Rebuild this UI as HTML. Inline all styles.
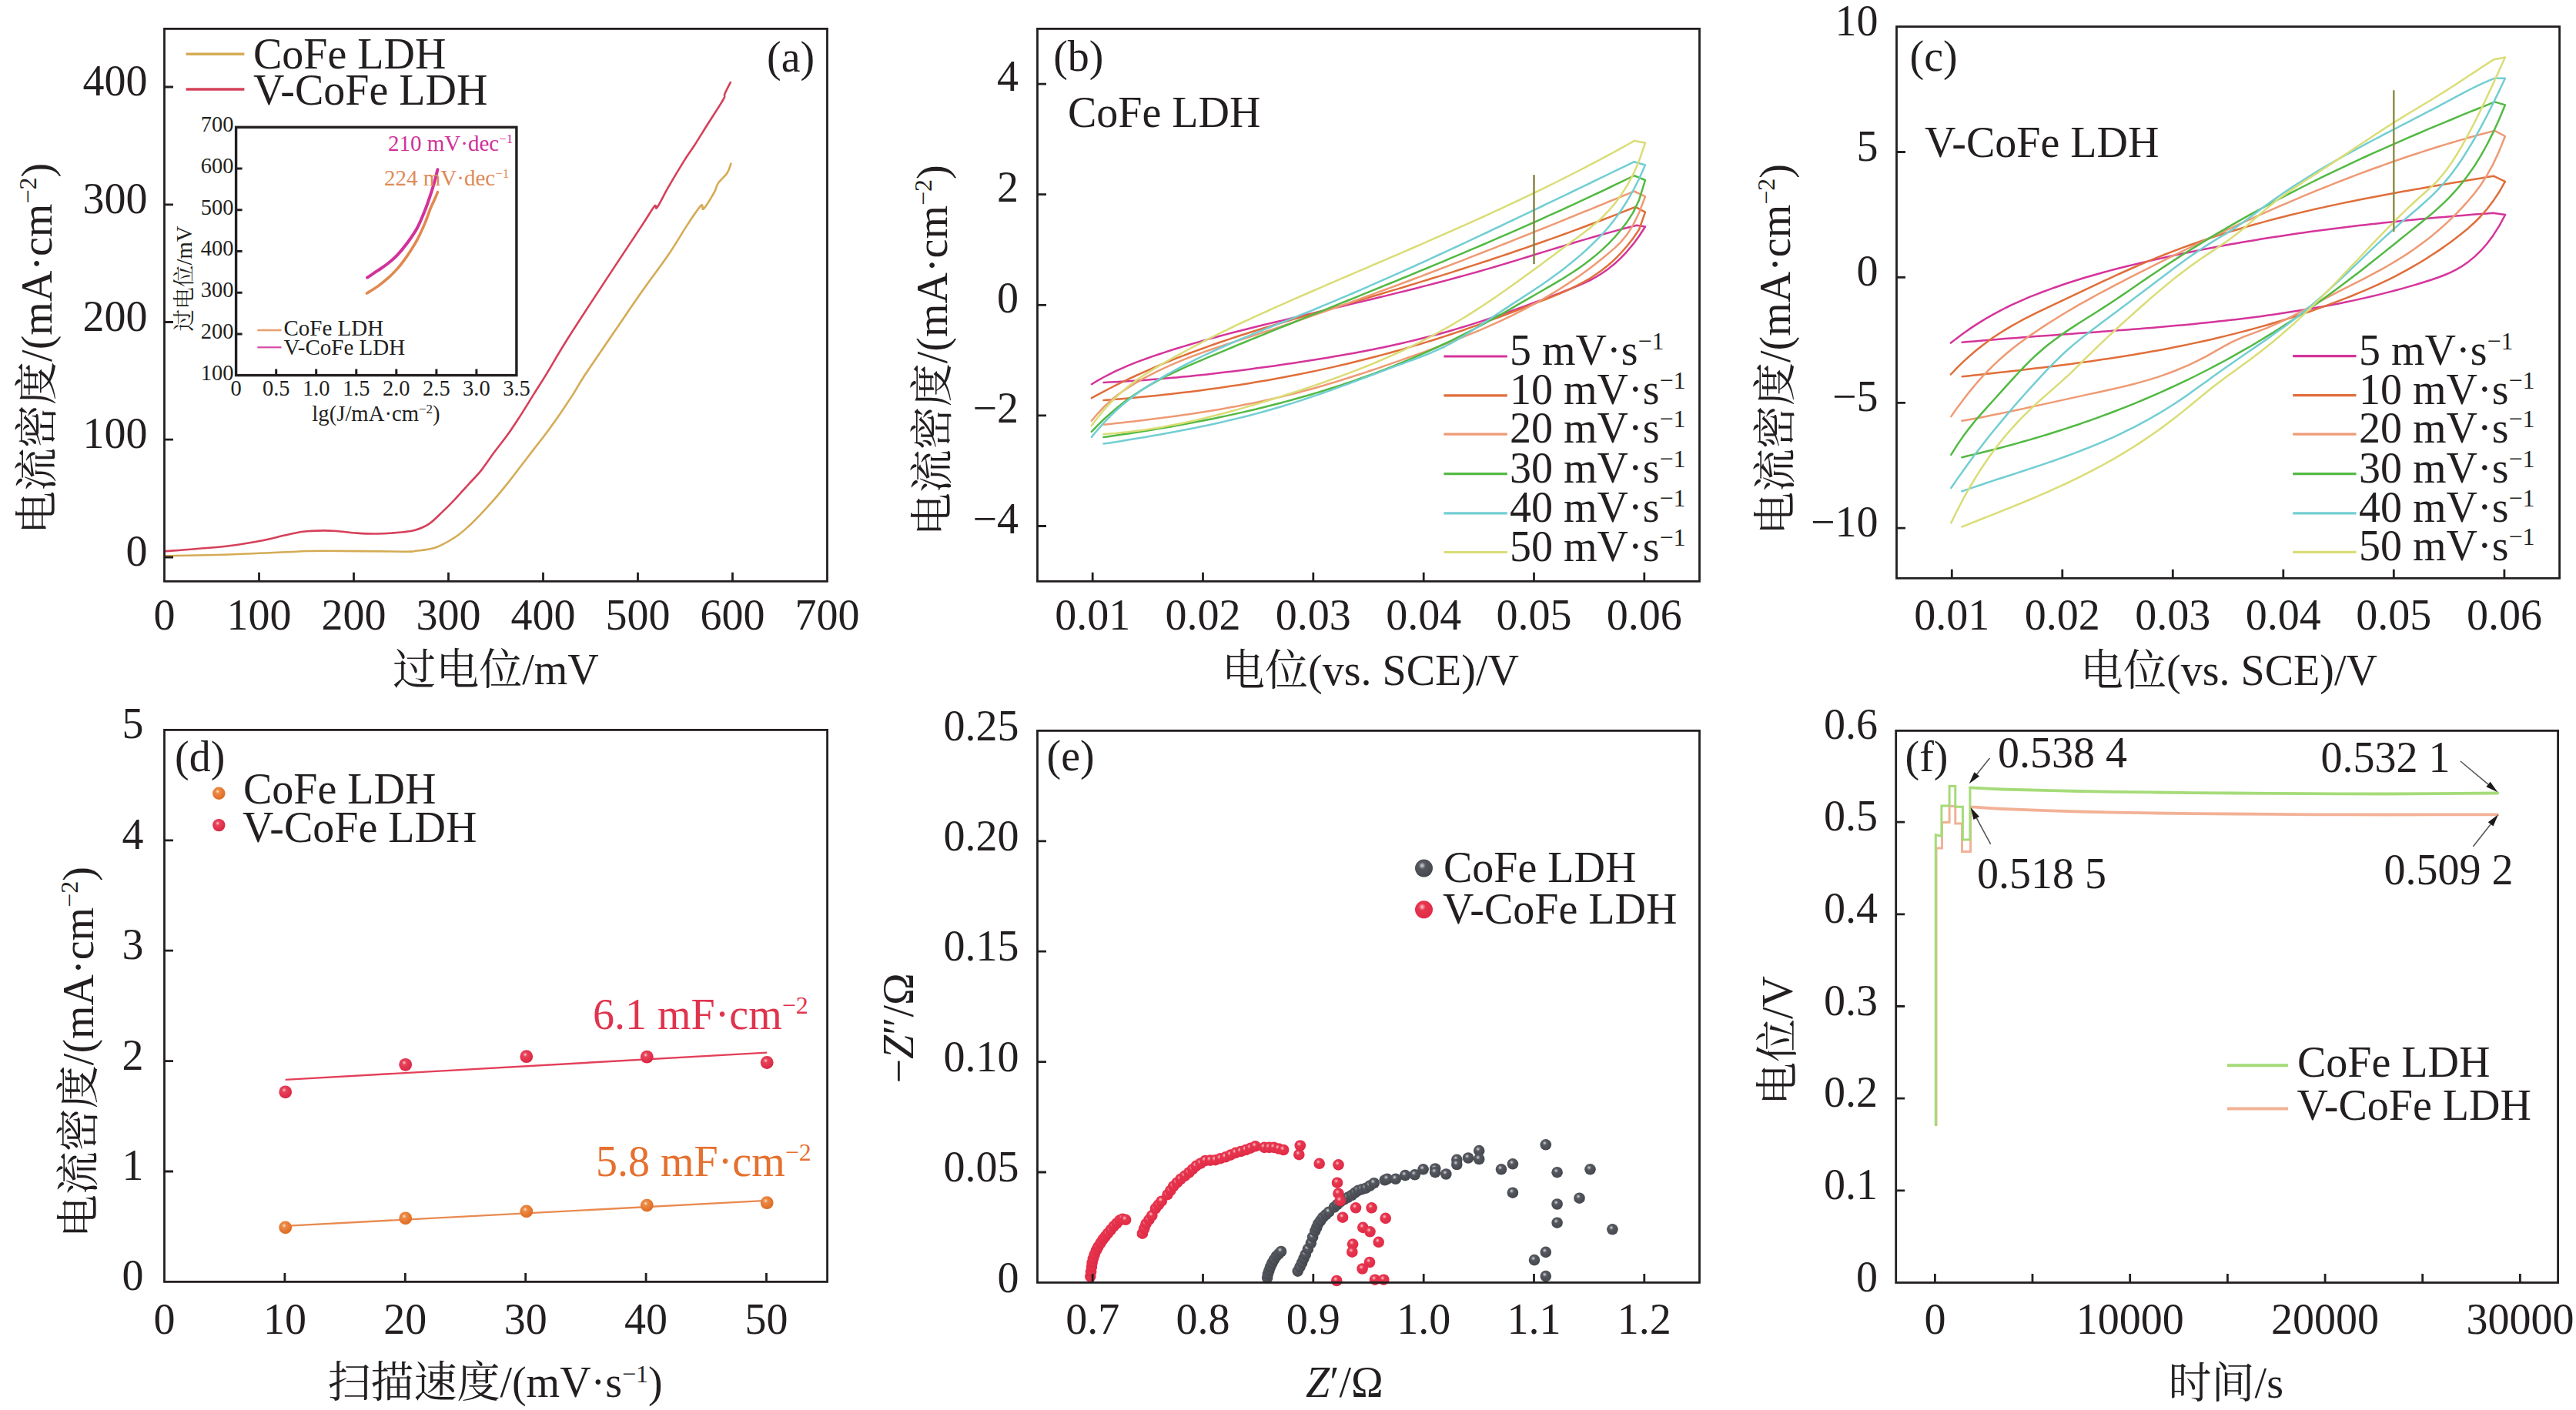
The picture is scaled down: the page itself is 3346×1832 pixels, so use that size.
<!DOCTYPE html>
<html><head><meta charset="utf-8"><title>figure</title>
<style>
html,body{margin:0;padding:0;background:#fff;}
body{width:3346px;height:1832px;overflow:hidden;}
svg{display:block;}
text{font-family:"Liberation Serif","Noto Serif CJK SC",serif;}
.cjk{font-family:"Liberation Serif","Noto Serif CJK SC",serif;}
</style></head><body>
<svg width="3346" height="1832" viewBox="0 0 3346 1832">
<rect width="3346" height="1832" fill="#fff"/>
<defs>
<radialGradient id="gOr" cx="0.4" cy="0.35" r="0.65"><stop offset="0" stop-color="#fde6d0"/><stop offset="0.25" stop-color="#ec8a45"/><stop offset="1" stop-color="#de6a22"/></radialGradient>
<radialGradient id="gRd" cx="0.4" cy="0.35" r="0.65"><stop offset="0" stop-color="#fbd0d8"/><stop offset="0.25" stop-color="#e8435b"/><stop offset="1" stop-color="#d92743"/></radialGradient>
<radialGradient id="gRe" cx="0.4" cy="0.35" r="0.65"><stop offset="0" stop-color="#f7c8d0"/><stop offset="0.3" stop-color="#e8364f"/><stop offset="1" stop-color="#e02a45"/></radialGradient>
<radialGradient id="gDk" cx="0.4" cy="0.35" r="0.65"><stop offset="0" stop-color="#d8d8dc"/><stop offset="0.3" stop-color="#55585f"/><stop offset="1" stop-color="#44474e"/></radialGradient>
</defs>
<text x="213.5" y="817.5" font-size="56" text-anchor="middle" fill="#231F20" >0</text>
<text x="336.5" y="817.5" font-size="56" text-anchor="middle" fill="#231F20" >100</text>
<text x="459.5" y="817.5" font-size="56" text-anchor="middle" fill="#231F20" >200</text>
<text x="582.5" y="817.5" font-size="56" text-anchor="middle" fill="#231F20" >300</text>
<text x="705.5" y="817.5" font-size="56" text-anchor="middle" fill="#231F20" >400</text>
<text x="828.5" y="817.5" font-size="56" text-anchor="middle" fill="#231F20" >500</text>
<text x="951.5" y="817.5" font-size="56" text-anchor="middle" fill="#231F20" >600</text>
<text x="1074.5" y="817.5" font-size="56" text-anchor="middle" fill="#231F20" >700</text>
<text x="191.5" y="735" font-size="56" text-anchor="end" fill="#231F20" >0</text>
<text x="191.5" y="582.2" font-size="56" text-anchor="end" fill="#231F20" >100</text>
<text x="191.5" y="429.5" font-size="56" text-anchor="end" fill="#231F20" >200</text>
<text x="191.5" y="276.8" font-size="56" text-anchor="end" fill="#231F20" >300</text>
<text x="191.5" y="124" font-size="56" text-anchor="end" fill="#231F20" >400</text>
<text x="644" y="888.9" font-size="56" text-anchor="middle" fill="#231F20" >过电位/mV</text>
<text x="66.8" y="452.9" font-size="56" text-anchor="middle" fill="#231F20" transform="rotate(-90 66.8 452.9)">电流密度/(mA·cm<tspan font-size="32" dy="-20">−2</tspan><tspan font-size="56" dy="20">)</tspan></text>
<line x1="241.6" y1="70.3" x2="317.4" y2="70.3" stroke="#D5AB55" stroke-width="3.4"/>
<line x1="241.6" y1="116" x2="317.4" y2="116" stroke="#D6405A" stroke-width="3.4"/>
<text x="329" y="88.8" font-size="56" text-anchor="start" fill="#231F20" >CoFe LDH</text>
<text x="329" y="136.4" font-size="56" text-anchor="start" fill="#231F20" >V-CoFe LDH</text>
<text x="996" y="92.6" font-size="56" text-anchor="start" fill="#231F20" >(a)</text>
<path d="M214.4 722.3C228.2 722 269 721.4 297.4 720.5C325.8 719.6 364.3 717.5 384.7 716.7C405.1 715.9 396.3 715.7 419.6 715.7C442.9 715.7 504.4 716.7 524.5 716.7C544.6 716.7 533.2 716.6 540 715.8C546.8 714.9 557 714.6 565.5 711.6C574 708.6 584 702.5 591.1 698C598.2 693.5 602.4 689.4 608.1 684.3C613.8 679.2 619.4 673.2 625.1 667.3C630.8 661.3 636.5 655.1 642.2 648.6C647.9 642.1 653.5 635.2 659.2 628.1C664.9 621 670.5 613.4 676.2 606C681.9 598.6 687.5 591.3 693.2 583.9C698.9 576.5 704.6 569.4 710.3 561.7C716 554 721.6 546.1 727.3 537.9C733 529.7 738.8 520.9 744.3 512.4C749.8 503.9 750.7 500.9 760 486.8C769.3 472.7 787.5 446.3 800 428C812.5 409.7 823.5 393.3 835 377C846.5 360.7 859.1 344.4 868.9 330C878.7 315.6 886.6 301.4 893.6 290.9C900.6 280.4 907.2 270.3 910.6 267C914 263.7 911.1 274.1 914 271.3C916.9 268.5 924.6 255.5 927.7 250C930.8 244.5 930 242.3 932.8 238.1C935.6 233.8 941.9 228.8 944.7 224.5C947.5 220.2 948.6 214.6 949.4 212.6" fill="none" stroke="#D5AB55" stroke-width="2.6" stroke-linejoin="round" stroke-linecap="round" />
<path d="M214.4 716.2C220.9 715.7 239.9 714.4 253.7 713.2C267.5 712 282.8 711 297.4 709.2C311.9 707.4 329.4 704.4 341 702.2C352.6 700 358.5 698 367.2 696.1C375.9 694.2 384.7 691.9 393.4 690.8C402.1 689.7 412.3 689.5 419.6 689.4C426.9 689.3 429.8 689.5 437.1 690C444.4 690.5 454.6 692 463.3 692.6C472 693.2 479.3 693.7 489.5 693.5C499.7 693.3 516.1 692 524.5 691.2C532.9 690.4 534.6 690.3 540 688.6C545.4 686.9 551.3 684.7 557 680.9C562.7 677.1 568.4 671 574.1 665.6C579.8 660.2 585.4 654.6 591.1 648.6C596.8 642.6 602.4 636 608.1 629.8C613.8 623.5 619.4 618.2 625.1 611.1C630.8 604 636.5 595 642.2 587.3C647.9 579.6 653.5 573 659.2 565.1C664.9 557.2 670.5 548.4 676.2 539.6C681.9 530.8 687.5 521.5 693.2 512.4C698.9 503.3 702.7 497.6 710.3 485.1C717.9 472.6 724.3 460.7 739 437.5C753.7 414.3 782.8 370.2 798.6 346.1C814.4 322 825.4 305.6 834 292.6C842.6 279.6 846.9 271.7 850.2 267.9C853.5 264.1 850.6 273.7 853.6 269.6C856.6 265.5 862.3 253.3 868.1 243.2C873.9 233.1 882.8 218.2 888.5 209.1C894.2 200 897 196.6 902.1 188.7C907.2 180.8 912.9 171.4 919.1 161.5C925.4 151.6 935.9 135.6 939.6 129.1C943.3 122.6 939.8 126 941.3 122.3C942.8 118.6 947.6 109.5 948.9 107" fill="none" stroke="#D6405A" stroke-width="2.6" stroke-linejoin="round" stroke-linecap="round" />
<text x="306.6" y="513.8" font-size="28.5" text-anchor="middle" fill="#231F20" >0</text>
<text x="358.7" y="513.8" font-size="28.5" text-anchor="middle" fill="#231F20" >0.5</text>
<text x="410.7" y="513.8" font-size="28.5" text-anchor="middle" fill="#231F20" >1.0</text>
<text x="462.8" y="513.8" font-size="28.5" text-anchor="middle" fill="#231F20" >1.5</text>
<text x="514.8" y="513.8" font-size="28.5" text-anchor="middle" fill="#231F20" >2.0</text>
<text x="566.9" y="513.8" font-size="28.5" text-anchor="middle" fill="#231F20" >2.5</text>
<text x="618.9" y="513.8" font-size="28.5" text-anchor="middle" fill="#231F20" >3.0</text>
<text x="671" y="513.8" font-size="28.5" text-anchor="middle" fill="#231F20" >3.5</text>
<text x="303.5" y="493.6" font-size="28.5" text-anchor="end" fill="#231F20" >100</text>
<text x="303.5" y="439.9" font-size="28.5" text-anchor="end" fill="#231F20" >200</text>
<text x="303.5" y="386.2" font-size="28.5" text-anchor="end" fill="#231F20" >300</text>
<text x="303.5" y="332.4" font-size="28.5" text-anchor="end" fill="#231F20" >400</text>
<text x="303.5" y="278.7" font-size="28.5" text-anchor="end" fill="#231F20" >500</text>
<text x="303.5" y="225" font-size="28.5" text-anchor="end" fill="#231F20" >600</text>
<text x="303.5" y="171.3" font-size="28.5" text-anchor="end" fill="#231F20" >700</text>
<text x="488.5" y="546.6" font-size="28.7" text-anchor="middle" fill="#231F20">lg(J/mA·cm<tspan font-size="17" dy="-10">−2</tspan><tspan dy="10">)</tspan></text>
<text x="249" y="362" font-size="28.7" text-anchor="middle" fill="#231F20" transform="rotate(-90 249 362)">过电位/mV</text>
<path d="M476.5 381.1C478.8 379.6 486 375.3 490.5 372.1C495 368.9 499 365.7 503.3 361.9C507.6 358.1 511.9 354.1 516.1 349.2C520.4 344.3 524.5 338.8 528.8 332.6C533 326.4 537.8 319.1 541.6 312.1C545.4 305.1 548.8 297.4 551.8 290.4C554.8 283.4 557.1 275.7 559.5 270C561.9 264.3 564.4 259.4 565.9 256C567.4 252.6 568 250.7 568.4 249.6" fill="none" stroke="#E2884F" stroke-width="3.6" stroke-linejoin="round" stroke-linecap="round" />
<path d="M477.1 360.6C479.3 359.1 486.1 354.7 490.5 351.7C494.9 348.7 499 346.2 503.3 342.8C507.6 339.4 511.9 335.8 516.1 331.3C520.4 326.8 524.5 321.8 528.8 316C533 310.2 537.8 303.8 541.6 296.8C545.4 289.8 548.8 281.2 551.8 273.8C554.8 266.4 557.4 258.5 559.5 252.1C561.6 245.7 563.1 240.8 564.6 235.5C566.1 230.2 567.8 222.8 568.4 220.2" fill="none" stroke="#D2329B" stroke-width="4.0" stroke-linejoin="round" stroke-linecap="round" />
<line x1="334.3" y1="429" x2="365.5" y2="429" stroke="#E9A06E" stroke-width="2.6"/>
<line x1="334.3" y1="451.3" x2="365.5" y2="451.3" stroke="#D849A8" stroke-width="2.2"/>
<text x="368.5" y="436.4" font-size="29" text-anchor="start" fill="#231F20" >CoFe LDH</text>
<text x="368.5" y="461" font-size="29" text-anchor="start" fill="#231F20" >V-CoFe LDH</text>
<text x="504" y="196" font-size="29" fill="#D0309A">210 mV·dec<tspan font-size="17" dy="-10">−1</tspan></text>
<text x="499" y="240.7" font-size="29" fill="#E08A55">224 mV·dec<tspan font-size="17" dy="-10">−1</tspan></text>
<text x="1419.2" y="817.5" font-size="56" text-anchor="middle" fill="#231F20" >0.01</text>
<text x="1562.5" y="817.5" font-size="56" text-anchor="middle" fill="#231F20" >0.02</text>
<text x="1705.8" y="817.5" font-size="56" text-anchor="middle" fill="#231F20" >0.03</text>
<text x="1849.2" y="817.5" font-size="56" text-anchor="middle" fill="#231F20" >0.04</text>
<text x="1992.5" y="817.5" font-size="56" text-anchor="middle" fill="#231F20" >0.05</text>
<text x="2135.8" y="817.5" font-size="56" text-anchor="middle" fill="#231F20" >0.06</text>
<text x="1323" y="692.8" font-size="56" text-anchor="end" fill="#231F20" >−4</text>
<text x="1323" y="549.2" font-size="56" text-anchor="end" fill="#231F20" >−2</text>
<text x="1323" y="405.6" font-size="56" text-anchor="end" fill="#231F20" >0</text>
<text x="1323" y="262" font-size="56" text-anchor="end" fill="#231F20" >2</text>
<text x="1323" y="118.4" font-size="56" text-anchor="end" fill="#231F20" >4</text>
<text x="1780" y="889.5" font-size="56" text-anchor="middle" fill="#231F20" >电位(vs. SCE)/V</text>
<text x="1230.4" y="455.3" font-size="56" text-anchor="middle" fill="#231F20" transform="rotate(-90 1230.4 455.3)">电流密度/(mA·cm<tspan font-size="32" dy="-20">−2</tspan><tspan font-size="56" dy="20">)</tspan></text>
<text x="1368.2" y="92.2" font-size="56" text-anchor="start" fill="#231F20" >(b)</text>
<text x="1387" y="164.8" font-size="56" text-anchor="start" fill="#231F20" >CoFe LDH</text>
<line x1="1875.4" y1="463" x2="1957.8" y2="463" stroke="#D5349B" stroke-width="3.2"/>
<text x="1961" y="474" font-size="56" text-anchor="start" fill="#231F20" >5 mV·s<tspan font-size="32" dy="-20">−1</tspan></text>
<line x1="1875.4" y1="513.9" x2="1957.8" y2="513.9" stroke="#E06E3A" stroke-width="3.2"/>
<text x="1961" y="524.9" font-size="56" text-anchor="start" fill="#231F20" >10 mV·s<tspan font-size="32" dy="-20">−1</tspan></text>
<line x1="1875.4" y1="564.1" x2="1957.8" y2="564.1" stroke="#EE9A74" stroke-width="3.2"/>
<text x="1961" y="575.1" font-size="56" text-anchor="start" fill="#231F20" >20 mV·s<tspan font-size="32" dy="-20">−1</tspan></text>
<line x1="1875.4" y1="615.7" x2="1957.8" y2="615.7" stroke="#52B943" stroke-width="3.2"/>
<text x="1961" y="626.7" font-size="56" text-anchor="start" fill="#231F20" >30 mV·s<tspan font-size="32" dy="-20">−1</tspan></text>
<line x1="1875.4" y1="666.9" x2="1957.8" y2="666.9" stroke="#72CED3" stroke-width="3.2"/>
<text x="1961" y="677.9" font-size="56" text-anchor="start" fill="#231F20" >40 mV·s<tspan font-size="32" dy="-20">−1</tspan></text>
<line x1="1875.4" y1="717.5" x2="1957.8" y2="717.5" stroke="#DADD76" stroke-width="3.2"/>
<text x="1961" y="728.5" font-size="56" text-anchor="start" fill="#231F20" >50 mV·s<tspan font-size="32" dy="-20">−1</tspan></text>
<text x="2535.3" y="817.5" font-size="56" text-anchor="middle" fill="#231F20" >0.01</text>
<text x="2678.8" y="817.5" font-size="56" text-anchor="middle" fill="#231F20" >0.02</text>
<text x="2822.3" y="817.5" font-size="56" text-anchor="middle" fill="#231F20" >0.03</text>
<text x="2965.8" y="817.5" font-size="56" text-anchor="middle" fill="#231F20" >0.04</text>
<text x="3109.3" y="817.5" font-size="56" text-anchor="middle" fill="#231F20" >0.05</text>
<text x="3252.9" y="817.5" font-size="56" text-anchor="middle" fill="#231F20" >0.06</text>
<text x="2439.5" y="697.2" font-size="56" text-anchor="end" fill="#231F20" >−10</text>
<text x="2439.5" y="534.3" font-size="56" text-anchor="end" fill="#231F20" >−5</text>
<text x="2439.5" y="371.4" font-size="56" text-anchor="end" fill="#231F20" >0</text>
<text x="2439.5" y="208.5" font-size="56" text-anchor="end" fill="#231F20" >5</text>
<text x="2439.5" y="45.6" font-size="56" text-anchor="end" fill="#231F20" >10</text>
<text x="2895" y="889.5" font-size="56" text-anchor="middle" fill="#231F20" >电位(vs. SCE)/V</text>
<text x="2325.1" y="454" font-size="56" text-anchor="middle" fill="#231F20" transform="rotate(-90 2325.1 454)">电流密度/(mA·cm<tspan font-size="32" dy="-20">−2</tspan><tspan font-size="56" dy="20">)</tspan></text>
<text x="2480.5" y="92" font-size="56" text-anchor="start" fill="#231F20" >(c)</text>
<text x="2500" y="204.2" font-size="56" text-anchor="start" fill="#231F20" >V-CoFe LDH</text>
<line x1="2978.2" y1="462.7" x2="3060.5" y2="462.7" stroke="#D5349B" stroke-width="3.2"/>
<text x="3064" y="473.7" font-size="56" text-anchor="start" fill="#231F20" >5 mV·s<tspan font-size="32" dy="-20">−1</tspan></text>
<line x1="2978.2" y1="513.7" x2="3060.5" y2="513.7" stroke="#E06E3A" stroke-width="3.2"/>
<text x="3064" y="524.7" font-size="56" text-anchor="start" fill="#231F20" >10 mV·s<tspan font-size="32" dy="-20">−1</tspan></text>
<line x1="2978.2" y1="564.1" x2="3060.5" y2="564.1" stroke="#EE9A74" stroke-width="3.2"/>
<text x="3064" y="575.1" font-size="56" text-anchor="start" fill="#231F20" >20 mV·s<tspan font-size="32" dy="-20">−1</tspan></text>
<line x1="2978.2" y1="615.6" x2="3060.5" y2="615.6" stroke="#52B943" stroke-width="3.2"/>
<text x="3064" y="626.6" font-size="56" text-anchor="start" fill="#231F20" >30 mV·s<tspan font-size="32" dy="-20">−1</tspan></text>
<line x1="2978.2" y1="666.9" x2="3060.5" y2="666.9" stroke="#72CED3" stroke-width="3.2"/>
<text x="3064" y="677.9" font-size="56" text-anchor="start" fill="#231F20" >40 mV·s<tspan font-size="32" dy="-20">−1</tspan></text>
<line x1="2978.2" y1="717.3" x2="3060.5" y2="717.3" stroke="#DADD76" stroke-width="3.2"/>
<text x="3064" y="728.3" font-size="56" text-anchor="start" fill="#231F20" >50 mV·s<tspan font-size="32" dy="-20">−1</tspan></text>
<path d="M1417.9 499.2 L1425.9 494.4 L1433.8 490 L1441.8 485.8 L1449.7 481.9 L1457.7 478.3 L1465.6 474.8 L1473.6 471.6 L1481.5 468.6 L1489.5 465.7 L1497.5 462.9 L1505.4 460.2 L1513.4 457.6 L1521.3 455 L1529.3 452.5 L1537.2 450.1 L1545.2 447.7 L1553.2 445.4 L1561.1 443.1 L1569.1 440.9 L1577 438.7 L1585 436.5 L1592.9 434.4 L1600.9 432.3 L1608.8 430.3 L1616.8 428.3 L1624.8 426.3 L1632.7 424.3 L1640.7 422.3 L1648.6 420.4 L1656.6 418.5 L1664.5 416.6 L1672.5 414.7 L1680.5 412.8 L1688.4 410.9 L1696.4 409 L1704.3 407.1 L1712.3 405.2 L1720.2 403.4 L1728.2 401.5 L1736.1 399.6 L1744.1 397.7 L1752.1 395.8 L1760 393.9 L1768 392 L1775.9 390.1 L1783.9 388.2 L1791.8 386.3 L1799.8 384.4 L1807.8 382.4 L1815.7 380.4 L1823.7 378.5 L1831.6 376.5 L1839.6 374.5 L1847.5 372.4 L1855.5 370.4 L1863.4 368.3 L1871.4 366.2 L1879.4 364.1 L1887.3 362 L1895.3 359.8 L1903.2 357.6 L1911.2 355.4 L1919.1 353.2 L1927.1 350.9 L1935.1 348.6 L1943 346.2 L1951 343.9 L1958.9 341.5 L1966.9 339.1 L1974.8 336.6 L1982.8 334.2 L1990.7 331.8 L1998.7 329.3 L2006.7 326.9 L2014.6 324.4 L2022.6 322 L2030.5 319.6 L2038.5 317.2 L2046.4 314.8 L2054.4 312.4 L2062.4 310.1 L2070.3 307.8 L2078.3 305.5 L2086.2 303.3 L2094.2 301.1 L2102.1 298.9 L2110.1 296.8 L2118 294.8 L2126 292.8 L2137 294.5 L2129.1 306.7 L2121.2 317.4 L2113.3 326.8 L2105.4 335.2 L2097.5 342.5 L2089.6 348.9 L2081.7 354.5 L2073.8 359.5 L2065.9 363.8 L2058 367.7 L2050.1 371.2 L2042.1 374.4 L2034.2 377.5 L2026.3 380.6 L2018.4 383.6 L2010.5 386.6 L2002.6 389.6 L1994.7 392.5 L1986.8 395.5 L1978.9 398.4 L1971 401.2 L1963.1 404.1 L1955.2 406.9 L1947.3 409.6 L1939.4 412.3 L1931.5 415 L1923.6 417.6 L1915.7 420.1 L1907.8 422.6 L1899.9 425 L1892 427.4 L1884.1 429.7 L1876.2 432 L1868.2 434.2 L1860.3 436.3 L1852.4 438.3 L1844.5 440.3 L1836.6 442.3 L1828.7 444.1 L1820.8 446 L1812.9 447.8 L1805 449.5 L1797.1 451.2 L1789.2 452.8 L1781.3 454.4 L1773.4 455.9 L1765.5 457.4 L1757.6 458.9 L1749.7 460.3 L1741.8 461.7 L1733.9 463.1 L1726 464.4 L1718.1 465.7 L1710.2 467 L1702.3 468.3 L1694.3 469.5 L1686.4 470.7 L1678.5 471.9 L1670.6 473.1 L1662.7 474.2 L1654.8 475.4 L1646.9 476.5 L1639 477.6 L1631.1 478.6 L1623.2 479.7 L1615.3 480.7 L1607.4 481.7 L1599.5 482.7 L1591.6 483.6 L1583.7 484.6 L1575.8 485.5 L1567.9 486.4 L1560 487.2 L1552.1 488.1 L1544.2 488.9 L1536.3 489.6 L1528.4 490.4 L1520.4 491.1 L1512.5 491.8 L1504.6 492.5 L1496.7 493.1 L1488.8 493.7 L1480.9 494.3 L1473 494.8 L1465.1 495.3 L1457.2 495.8 L1449.3 496.2 L1441.4 496.6 L1433.5 497" fill="none" stroke="#D5349B" stroke-width="2.5" stroke-linejoin="round" stroke-linecap="round"/>
<path d="M1417.9 517.1 L1425.8 512.8 L1433.8 508.6 L1441.7 504.5 L1449.6 500.4 L1457.6 496.5 L1465.5 492.7 L1473.5 489 L1481.4 485.3 L1489.3 481.8 L1497.3 478.3 L1505.2 474.9 L1513.1 471.6 L1521.1 468.3 L1529 465.2 L1537 462.1 L1544.9 459 L1552.8 456.1 L1560.8 453.2 L1568.7 450.3 L1576.6 447.5 L1584.6 444.8 L1592.5 442.1 L1600.5 439.4 L1608.4 436.8 L1616.3 434.3 L1624.3 431.7 L1632.2 429.2 L1640.1 426.8 L1648.1 424.4 L1656 422 L1663.9 419.6 L1671.9 417.2 L1679.8 414.9 L1687.8 412.6 L1695.7 410.3 L1703.6 408 L1711.6 405.7 L1719.5 403.4 L1727.4 401.1 L1735.4 398.8 L1743.3 396.6 L1751.3 394.3 L1759.2 392 L1767.1 389.7 L1775.1 387.3 L1783 385 L1790.9 382.7 L1798.9 380.3 L1806.8 377.9 L1814.8 375.6 L1822.7 373.2 L1830.6 370.8 L1838.6 368.4 L1846.5 365.9 L1854.4 363.5 L1862.4 361 L1870.3 358.6 L1878.3 356.1 L1886.2 353.6 L1894.1 351 L1902.1 348.5 L1910 345.9 L1917.9 343.4 L1925.9 340.8 L1933.8 338.2 L1941.7 335.5 L1949.7 332.9 L1957.6 330.2 L1965.6 327.5 L1973.5 324.8 L1981.4 322.1 L1989.4 319.3 L1997.3 316.5 L2005.2 313.8 L2013.2 310.9 L2021.1 308.1 L2029.1 305.2 L2037 302.3 L2044.9 299.4 L2052.9 296.5 L2060.8 293.5 L2068.7 290.5 L2076.7 287.5 L2084.6 284.5 L2092.6 281.4 L2100.5 278.3 L2108.4 275.2 L2116.4 272 L2124.3 268.8 L2137 275.7 L2129.1 298.1 L2121.2 309.7 L2113.3 319.8 L2105.4 328.8 L2097.5 336.8 L2089.6 344 L2081.7 350.3 L2073.8 356 L2065.9 361.2 L2058 365.9 L2050.1 370.2 L2042.1 374.2 L2034.2 377.9 L2026.3 381.4 L2018.4 384.7 L2010.5 387.8 L2002.6 390.9 L1994.7 393.9 L1986.8 396.9 L1978.9 400 L1971 403 L1963.1 406 L1955.2 409 L1947.3 412 L1939.4 414.9 L1931.5 417.9 L1923.6 420.8 L1915.7 423.6 L1907.8 426.4 L1899.9 429.2 L1892 431.9 L1884.1 434.5 L1876.2 437.1 L1868.2 439.7 L1860.3 442.2 L1852.4 444.6 L1844.5 447.1 L1836.6 449.4 L1828.7 451.8 L1820.8 454.1 L1812.9 456.3 L1805 458.5 L1797.1 460.6 L1789.2 462.8 L1781.3 464.8 L1773.4 466.8 L1765.5 468.8 L1757.6 470.8 L1749.7 472.7 L1741.8 474.5 L1733.9 476.4 L1726 478.1 L1718.1 479.9 L1710.2 481.6 L1702.3 483.2 L1694.3 484.9 L1686.4 486.5 L1678.5 488 L1670.6 489.5 L1662.7 491 L1654.8 492.5 L1646.9 493.9 L1639 495.2 L1631.1 496.6 L1623.2 497.9 L1615.3 499.2 L1607.4 500.4 L1599.5 501.6 L1591.6 502.8 L1583.7 503.9 L1575.8 505 L1567.9 506.1 L1560 507.2 L1552.1 508.2 L1544.2 509.2 L1536.3 510.1 L1528.4 511 L1520.4 511.9 L1512.5 512.8 L1504.6 513.7 L1496.7 514.5 L1488.8 515.3 L1480.9 516 L1473 516.8 L1465.1 517.5 L1457.2 518.2 L1449.3 518.8 L1441.4 519.5 L1433.5 520.1" fill="none" stroke="#E06E3A" stroke-width="2.5" stroke-linejoin="round" stroke-linecap="round"/>
<path d="M1417.9 546.8 L1425.8 537.3 L1433.7 528.9 L1441.7 521.5 L1449.6 514.8 L1457.5 508.9 L1465.4 503.6 L1473.3 498.7 L1481.2 494.1 L1489.2 489.7 L1497.1 485.6 L1505 481.6 L1512.9 477.9 L1520.8 474.3 L1528.8 470.9 L1536.7 467.6 L1544.6 464.5 L1552.5 461.5 L1560.4 458.6 L1568.3 455.8 L1576.3 453 L1584.2 450.4 L1592.1 447.7 L1600 445.2 L1607.9 442.6 L1615.8 440 L1623.8 437.5 L1631.7 434.9 L1639.6 432.3 L1647.5 429.7 L1655.4 427.1 L1663.4 424.4 L1671.3 421.7 L1679.2 419 L1687.1 416.3 L1695 413.6 L1702.9 410.9 L1710.9 408.1 L1718.8 405.4 L1726.7 402.6 L1734.6 399.8 L1742.5 397 L1750.5 394.1 L1758.4 391.3 L1766.3 388.4 L1774.2 385.5 L1782.1 382.7 L1790 379.7 L1798 376.8 L1805.9 373.9 L1813.8 371 L1821.7 368 L1829.6 365 L1837.6 362 L1845.5 359.1 L1853.4 356 L1861.3 353 L1869.2 350 L1877.1 347 L1885.1 343.9 L1893 340.8 L1900.9 337.8 L1908.8 334.7 L1916.7 331.6 L1924.7 328.5 L1932.6 325.4 L1940.5 322.3 L1948.4 319.1 L1956.3 316 L1964.2 312.8 L1972.2 309.7 L1980.1 306.5 L1988 303.3 L1995.9 300.2 L2003.8 297 L2011.7 293.8 L2019.7 290.6 L2027.6 287.4 L2035.5 284.2 L2043.4 281 L2051.3 277.7 L2059.3 274.5 L2067.2 271.3 L2075.1 268 L2083 264.8 L2090.9 261.5 L2098.8 258.3 L2106.8 255 L2114.7 251.8 L2122.6 248.5 L2137 255.3 L2129.1 276.3 L2121.2 292.4 L2113.3 304.8 L2105.4 314.4 L2097.5 322.1 L2089.6 328.9 L2081.7 335.5 L2073.8 341.8 L2065.9 347.9 L2058 353.7 L2050.1 359.4 L2042.1 364.9 L2034.2 370.1 L2026.3 375.2 L2018.4 380.1 L2010.5 384.9 L2002.6 389.5 L1994.7 393.9 L1986.8 398.2 L1978.9 402.3 L1971 406.4 L1963.1 410.3 L1955.2 414.1 L1947.3 417.8 L1939.4 421.4 L1931.5 424.9 L1923.6 428.3 L1915.7 431.6 L1907.8 434.9 L1899.9 438.1 L1892 441.3 L1884.1 444.4 L1876.2 447.4 L1868.2 450.4 L1860.3 453.4 L1852.4 456.3 L1844.5 459.2 L1836.6 462 L1828.7 464.8 L1820.8 467.6 L1812.9 470.4 L1805 473.1 L1797.1 475.9 L1789.2 478.6 L1781.3 481.2 L1773.4 483.9 L1765.5 486.5 L1757.6 489 L1749.7 491.5 L1741.8 494 L1733.9 496.5 L1726 498.8 L1718.1 501.2 L1710.2 503.5 L1702.3 505.7 L1694.3 507.8 L1686.4 510 L1678.5 512 L1670.6 514 L1662.7 515.9 L1654.8 517.7 L1646.9 519.5 L1639 521.3 L1631.1 522.9 L1623.2 524.6 L1615.3 526.1 L1607.4 527.7 L1599.5 529.1 L1591.6 530.6 L1583.7 531.9 L1575.8 533.3 L1567.9 534.6 L1560 535.8 L1552.1 537 L1544.2 538.2 L1536.3 539.3 L1528.4 540.4 L1520.4 541.5 L1512.5 542.6 L1504.6 543.6 L1496.7 544.6 L1488.8 545.5 L1480.9 546.5 L1473 547.4 L1465.1 548.3 L1457.2 549.2 L1449.3 550 L1441.4 550.9 L1433.5 551.7" fill="none" stroke="#EE9A74" stroke-width="2.5" stroke-linejoin="round" stroke-linecap="round"/>
<path d="M1417.9 560.9 L1425.8 552.6 L1433.7 544.9 L1441.7 537.7 L1449.6 530.9 L1457.5 524.6 L1465.4 518.6 L1473.3 513 L1481.2 507.8 L1489.2 502.9 L1497.1 498.3 L1505 493.9 L1512.9 489.7 L1520.8 485.8 L1528.8 482 L1536.7 478.4 L1544.6 474.9 L1552.5 471.4 L1560.4 468.1 L1568.3 464.7 L1576.3 461.4 L1584.2 458.1 L1592.1 454.8 L1600 451.5 L1607.9 448.2 L1615.8 445 L1623.8 441.7 L1631.7 438.5 L1639.6 435.3 L1647.5 432.1 L1655.4 428.9 L1663.4 425.7 L1671.3 422.5 L1679.2 419.3 L1687.1 416.1 L1695 412.9 L1702.9 409.7 L1710.9 406.5 L1718.8 403.3 L1726.7 400.1 L1734.6 396.9 L1742.5 393.7 L1750.5 390.5 L1758.4 387.3 L1766.3 384.1 L1774.2 380.9 L1782.1 377.7 L1790 374.5 L1798 371.2 L1805.9 368 L1813.8 364.8 L1821.7 361.5 L1829.6 358.3 L1837.6 355 L1845.5 351.7 L1853.4 348.5 L1861.3 345.2 L1869.2 341.9 L1877.1 338.6 L1885.1 335.2 L1893 331.9 L1900.9 328.6 L1908.8 325.2 L1916.7 321.8 L1924.7 318.5 L1932.6 315.1 L1940.5 311.7 L1948.4 308.2 L1956.3 304.8 L1964.2 301.3 L1972.2 297.9 L1980.1 294.4 L1988 290.9 L1995.9 287.3 L2003.8 283.8 L2011.7 280.2 L2019.7 276.7 L2027.6 273.1 L2035.5 269.4 L2043.4 265.8 L2051.3 262.1 L2059.3 258.4 L2067.2 254.7 L2075.1 251 L2083 247.3 L2090.9 243.5 L2098.8 239.7 L2106.8 235.9 L2114.7 232 L2122.6 228.1 L2137 234 L2129.1 259.7 L2121.2 276.4 L2113.3 288.4 L2105.4 298.7 L2097.5 308 L2089.6 316.3 L2081.7 323.9 L2073.8 330.9 L2065.9 337.3 L2058 343.3 L2050.1 348.9 L2042.1 354.2 L2034.2 359.3 L2026.3 364.2 L2018.4 368.8 L2010.5 373.4 L2002.6 378 L1994.7 382.5 L1986.8 387.1 L1978.9 391.7 L1971 396.2 L1963.1 400.8 L1955.2 405.3 L1947.3 409.8 L1939.4 414.2 L1931.5 418.5 L1923.6 422.8 L1915.7 427 L1907.8 431.1 L1899.9 435.1 L1892 439.1 L1884.1 443 L1876.2 446.7 L1868.2 450.5 L1860.3 454.1 L1852.4 457.7 L1844.5 461.2 L1836.6 464.6 L1828.7 467.9 L1820.8 471.2 L1812.9 474.4 L1805 477.6 L1797.1 480.6 L1789.2 483.6 L1781.3 486.6 L1773.4 489.5 L1765.5 492.3 L1757.6 495.1 L1749.7 497.8 L1741.8 500.4 L1733.9 503 L1726 505.5 L1718.1 508 L1710.2 510.4 L1702.3 512.7 L1694.3 515 L1686.4 517.3 L1678.5 519.5 L1670.6 521.6 L1662.7 523.7 L1654.8 525.8 L1646.9 527.8 L1639 529.7 L1631.1 531.7 L1623.2 533.5 L1615.3 535.4 L1607.4 537.1 L1599.5 538.9 L1591.6 540.6 L1583.7 542.3 L1575.8 543.9 L1567.9 545.5 L1560 547.1 L1552.1 548.6 L1544.2 550.1 L1536.3 551.5 L1528.4 553 L1520.4 554.4 L1512.5 555.7 L1504.6 557.1 L1496.7 558.4 L1488.8 559.7 L1480.9 560.9 L1473 562.2 L1465.1 563.4 L1457.2 564.6 L1449.3 565.7 L1441.4 566.9 L1433.5 568" fill="none" stroke="#52B943" stroke-width="2.5" stroke-linejoin="round" stroke-linecap="round"/>
<path d="M1417.9 567.9 L1425.8 558.3 L1433.7 549.4 L1441.7 541.1 L1449.6 533.5 L1457.5 526.5 L1465.4 520 L1473.3 513.9 L1481.2 508.2 L1489.2 502.9 L1497.1 497.9 L1505 493.1 L1512.9 488.4 L1520.8 484 L1528.8 479.6 L1536.7 475.4 L1544.6 471.4 L1552.5 467.4 L1560.4 463.5 L1568.3 459.8 L1576.3 456.1 L1584.2 452.5 L1592.1 449 L1600 445.6 L1607.9 442.2 L1615.8 438.9 L1623.8 435.7 L1631.7 432.4 L1639.6 429.2 L1647.5 426 L1655.4 422.9 L1663.4 419.7 L1671.3 416.6 L1679.2 413.4 L1687.1 410.2 L1695 407 L1702.9 403.8 L1710.9 400.5 L1718.8 397.2 L1726.7 393.9 L1734.6 390.6 L1742.5 387.2 L1750.5 383.9 L1758.4 380.5 L1766.3 377.1 L1774.2 373.6 L1782.1 370.2 L1790 366.7 L1798 363.2 L1805.9 359.7 L1813.8 356.2 L1821.7 352.6 L1829.6 349.1 L1837.6 345.5 L1845.5 341.9 L1853.4 338.3 L1861.3 334.7 L1869.2 331 L1877.1 327.4 L1885.1 323.7 L1893 320 L1900.9 316.3 L1908.8 312.6 L1916.7 308.9 L1924.7 305.2 L1932.6 301.5 L1940.5 297.7 L1948.4 294 L1956.3 290.2 L1964.2 286.5 L1972.2 282.7 L1980.1 278.9 L1988 275.1 L1995.9 271.3 L2003.8 267.5 L2011.7 263.7 L2019.7 259.9 L2027.6 256.1 L2035.5 252.3 L2043.4 248.5 L2051.3 244.7 L2059.3 240.8 L2067.2 237 L2075.1 233.2 L2083 229.4 L2090.9 225.5 L2098.8 221.7 L2106.8 217.9 L2114.7 214.1 L2122.6 210.2 L2137 214.5 L2129.1 232.2 L2121.2 247.7 L2113.3 261.5 L2105.4 273.8 L2097.5 284.9 L2089.6 294.8 L2081.7 303.8 L2073.8 312 L2065.9 319.7 L2058 327 L2050.1 333.9 L2042.1 340.5 L2034.2 346.9 L2026.3 353 L2018.4 358.8 L2010.5 364.5 L2002.6 370 L1994.7 375.3 L1986.8 380.5 L1978.9 385.6 L1971 390.8 L1963.1 395.9 L1955.2 401.1 L1947.3 406.3 L1939.4 411.5 L1931.5 416.7 L1923.6 422 L1915.7 427.2 L1907.8 432.3 L1899.9 437.3 L1892 442 L1884.1 446.4 L1876.2 450.5 L1868.2 454.2 L1860.3 457.7 L1852.4 461 L1844.5 464 L1836.6 467 L1828.7 469.9 L1820.8 472.8 L1812.9 475.7 L1805 478.7 L1797.1 481.6 L1789.2 484.6 L1781.3 487.5 L1773.4 490.5 L1765.5 493.4 L1757.6 496.4 L1749.7 499.3 L1741.8 502.2 L1733.9 505.1 L1726 507.9 L1718.1 510.7 L1710.2 513.4 L1702.3 516.1 L1694.3 518.8 L1686.4 521.4 L1678.5 523.9 L1670.6 526.3 L1662.7 528.7 L1654.8 531 L1646.9 533.3 L1639 535.5 L1631.1 537.6 L1623.2 539.7 L1615.3 541.7 L1607.4 543.6 L1599.5 545.5 L1591.6 547.4 L1583.7 549.2 L1575.8 551 L1567.9 552.7 L1560 554.3 L1552.1 556 L1544.2 557.6 L1536.3 559.1 L1528.4 560.6 L1520.4 562.1 L1512.5 563.5 L1504.6 565 L1496.7 566.3 L1488.8 567.7 L1480.9 569 L1473 570.3 L1465.1 571.6 L1457.2 572.9 L1449.3 574.2 L1441.4 575.4 L1433.5 576.6" fill="none" stroke="#72CED3" stroke-width="2.5" stroke-linejoin="round" stroke-linecap="round"/>
<path d="M1417.9 553.1 L1425.8 542.5 L1433.7 532.9 L1441.7 524.1 L1449.6 516.1 L1457.5 508.9 L1465.4 502.2 L1473.3 496.1 L1481.2 490.5 L1489.2 485.3 L1497.1 480.4 L1505 475.6 L1512.9 471 L1520.8 466.5 L1528.8 462.1 L1536.7 457.8 L1544.6 453.5 L1552.5 449.3 L1560.4 445.2 L1568.3 441.2 L1576.3 437.2 L1584.2 433.2 L1592.1 429.3 L1600 425.5 L1607.9 421.7 L1615.8 418 L1623.8 414.3 L1631.7 410.7 L1639.6 407.1 L1647.5 403.5 L1655.4 399.9 L1663.4 396.4 L1671.3 392.9 L1679.2 389.4 L1687.1 385.9 L1695 382.5 L1702.9 379 L1710.9 375.6 L1718.8 372.2 L1726.7 368.7 L1734.6 365.3 L1742.5 361.9 L1750.5 358.5 L1758.4 355.1 L1766.3 351.7 L1774.2 348.3 L1782.1 344.9 L1790 341.5 L1798 338.1 L1805.9 334.7 L1813.8 331.3 L1821.7 327.9 L1829.6 324.5 L1837.6 321 L1845.5 317.6 L1853.4 314.1 L1861.3 310.7 L1869.2 307.2 L1877.1 303.7 L1885.1 300.2 L1893 296.7 L1900.9 293.2 L1908.8 289.6 L1916.7 286.1 L1924.7 282.5 L1932.6 278.9 L1940.5 275.2 L1948.4 271.6 L1956.3 267.9 L1964.2 264.2 L1972.2 260.5 L1980.1 256.7 L1988 252.9 L1995.9 249.1 L2003.8 245.3 L2011.7 241.4 L2019.7 237.5 L2027.6 233.5 L2035.5 229.5 L2043.4 225.5 L2051.3 221.5 L2059.3 217.4 L2067.2 213.2 L2075.1 209.1 L2083 204.8 L2090.9 200.6 L2098.8 196.3 L2106.8 191.9 L2114.7 187.5 L2122.6 183.1 L2137 185.5 L2129.1 208.9 L2121.2 226.9 L2113.3 241.3 L2105.4 253.7 L2097.5 264.4 L2089.6 273.7 L2081.7 281.9 L2073.8 289.1 L2065.9 295.7 L2058 301.8 L2050.1 307.7 L2042.1 313.5 L2034.2 319.4 L2026.3 325.3 L2018.4 331.2 L2010.5 337 L2002.6 342.9 L1994.7 348.7 L1986.8 354.5 L1978.9 360.3 L1971 366 L1963.1 371.6 L1955.2 377.2 L1947.3 382.7 L1939.4 388.2 L1931.5 393.5 L1923.6 398.7 L1915.7 403.9 L1907.8 408.9 L1899.9 413.7 L1892 418.5 L1884.1 423.1 L1876.2 427.6 L1868.2 432 L1860.3 436.3 L1852.4 440.4 L1844.5 444.5 L1836.6 448.4 L1828.7 452.2 L1820.8 456 L1812.9 459.6 L1805 463.1 L1797.1 466.6 L1789.2 470 L1781.3 473.3 L1773.4 476.5 L1765.5 479.6 L1757.6 482.7 L1749.7 485.7 L1741.8 488.6 L1733.9 491.5 L1726 494.4 L1718.1 497.2 L1710.2 499.9 L1702.3 502.6 L1694.3 505.3 L1686.4 507.9 L1678.5 510.5 L1670.6 513 L1662.7 515.6 L1654.8 518 L1646.9 520.5 L1639 522.9 L1631.1 525.3 L1623.2 527.6 L1615.3 529.9 L1607.4 532.1 L1599.5 534.3 L1591.6 536.5 L1583.7 538.5 L1575.8 540.5 L1567.9 542.5 L1560 544.4 L1552.1 546.2 L1544.2 548 L1536.3 549.7 L1528.4 551.3 L1520.4 552.8 L1512.5 554.3 L1504.6 555.7 L1496.7 557 L1488.8 558.2 L1480.9 559.3 L1473 560.3 L1465.1 561.3 L1457.2 562.1 L1449.3 562.9 L1441.4 563.5 L1433.5 564.1" fill="none" stroke="#DADD76" stroke-width="2.5" stroke-linejoin="round" stroke-linecap="round"/>
<path d="M2533.9 445.6 L2541.8 439.4 L2549.7 433.5 L2557.6 427.9 L2565.5 422.6 L2573.5 417.6 L2581.4 412.8 L2589.3 408.3 L2597.2 404.1 L2605.1 400 L2613 396.2 L2620.9 392.6 L2628.8 389.1 L2636.7 385.7 L2644.7 382.6 L2652.6 379.5 L2660.5 376.6 L2668.4 373.7 L2676.3 371 L2684.2 368.3 L2692.1 365.7 L2700 363.2 L2707.9 360.8 L2715.9 358.5 L2723.8 356.2 L2731.7 354 L2739.6 351.9 L2747.5 349.8 L2755.4 347.8 L2763.3 345.8 L2771.2 343.9 L2779.1 342 L2787.1 340.1 L2795 338.3 L2802.9 336.5 L2810.8 334.7 L2818.7 333 L2826.6 331.3 L2834.5 329.6 L2842.4 328 L2850.3 326.4 L2858.3 324.8 L2866.2 323.2 L2874.1 321.7 L2882 320.2 L2889.9 318.8 L2897.8 317.3 L2905.7 315.9 L2913.6 314.6 L2921.6 313.2 L2929.5 311.9 L2937.4 310.6 L2945.3 309.3 L2953.2 308.1 L2961.1 306.9 L2969 305.7 L2976.9 304.5 L2984.8 303.3 L2992.8 302.2 L3000.7 301.1 L3008.6 300 L3016.5 299 L3024.4 298 L3032.3 296.9 L3040.2 295.9 L3048.1 295 L3056 294 L3064 293.1 L3071.9 292.2 L3079.8 291.3 L3087.7 290.4 L3095.6 289.6 L3103.5 288.7 L3111.4 287.9 L3119.3 287.1 L3127.2 286.3 L3135.2 285.5 L3143.1 284.8 L3151 284 L3158.9 283.3 L3166.8 282.6 L3174.7 281.9 L3182.6 281.2 L3190.5 280.5 L3198.4 279.9 L3206.4 279.2 L3214.3 278.6 L3222.2 278 L3230.1 277.4 L3238 276.8 L3254.1 279 L3246.2 293.7 L3238.2 306.2 L3230.3 316.7 L3222.4 325.7 L3214.5 333.4 L3206.5 339.9 L3198.6 345.5 L3190.7 350.1 L3182.8 354.1 L3174.8 357.5 L3166.9 360.5 L3159 363.2 L3151.1 365.7 L3143.1 368.2 L3135.2 370.6 L3127.3 372.9 L3119.4 375.1 L3111.4 377.3 L3103.5 379.4 L3095.6 381.4 L3087.7 383.4 L3079.7 385.3 L3071.8 387.1 L3063.9 388.9 L3056 390.6 L3048 392.3 L3040.1 393.9 L3032.2 395.4 L3024.3 397 L3016.3 398.4 L3008.4 399.8 L3000.5 401.2 L2992.5 402.5 L2984.6 403.8 L2976.7 405.1 L2968.8 406.3 L2960.8 407.5 L2952.9 408.7 L2945 409.8 L2937.1 410.9 L2929.1 411.9 L2921.2 412.9 L2913.3 413.9 L2905.4 414.9 L2897.4 415.8 L2889.5 416.7 L2881.6 417.6 L2873.7 418.5 L2865.7 419.3 L2857.8 420.1 L2849.9 420.9 L2842 421.7 L2834 422.4 L2826.1 423.1 L2818.2 423.8 L2810.3 424.5 L2802.3 425.2 L2794.4 425.9 L2786.5 426.5 L2778.5 427.2 L2770.6 427.8 L2762.7 428.4 L2754.8 429 L2746.8 429.6 L2738.9 430.2 L2731 430.8 L2723.1 431.4 L2715.1 432 L2707.2 432.5 L2699.3 433.1 L2691.4 433.7 L2683.4 434.2 L2675.5 434.8 L2667.6 435.4 L2659.7 435.9 L2651.7 436.5 L2643.8 437.1 L2635.9 437.7 L2628 438.3 L2620 438.9 L2612.1 439.5 L2604.2 440.1 L2596.3 440.8 L2588.3 441.4 L2580.4 442.1 L2572.5 442.7 L2564.6 443.4 L2556.6 444.1 L2548.7 444.8" fill="none" stroke="#D5349B" stroke-width="2.5" stroke-linejoin="round" stroke-linecap="round"/>
<path d="M2533.9 486.5 L2541.8 478.2 L2549.7 470.4 L2557.7 463.1 L2565.6 456.2 L2573.5 449.9 L2581.4 443.9 L2589.3 438.3 L2597.3 433 L2605.2 428.1 L2613.1 423.4 L2621 419 L2628.9 414.7 L2636.9 410.7 L2644.8 406.7 L2652.7 402.9 L2660.6 399.1 L2668.5 395.4 L2676.5 391.6 L2684.4 387.9 L2692.3 384.1 L2700.2 380.4 L2708.1 376.6 L2716.1 372.9 L2724 369.1 L2731.9 365.4 L2739.8 361.8 L2747.7 358.1 L2755.7 354.5 L2763.6 351 L2771.5 347.5 L2779.4 344.1 L2787.3 340.7 L2795.3 337.4 L2803.2 334.1 L2811.1 331 L2819 327.9 L2826.9 324.9 L2834.9 321.9 L2842.8 319 L2850.7 316.2 L2858.6 313.4 L2866.5 310.7 L2874.5 308.1 L2882.4 305.5 L2890.3 303 L2898.2 300.6 L2906.2 298.2 L2914.1 295.8 L2922 293.5 L2929.9 291.3 L2937.8 289.1 L2945.8 286.9 L2953.7 284.8 L2961.6 282.8 L2969.5 280.8 L2977.4 278.8 L2985.4 276.9 L2993.3 275 L3001.2 273.1 L3009.1 271.3 L3017 269.6 L3025 267.8 L3032.9 266.1 L3040.8 264.4 L3048.7 262.8 L3056.6 261.2 L3064.6 259.6 L3072.5 258 L3080.4 256.5 L3088.3 255 L3096.2 253.5 L3104.2 252 L3112.1 250.6 L3120 249.1 L3127.9 247.7 L3135.8 246.3 L3143.8 244.9 L3151.7 243.5 L3159.6 242.1 L3167.5 240.8 L3175.4 239.4 L3183.4 238.1 L3191.3 236.7 L3199.2 235.4 L3207.1 234 L3215 232.7 L3223 231.4 L3230.9 230 L3238.8 228.7 L3253.9 235.9 L3246 249.8 L3238.1 261.6 L3230.1 272 L3222.2 281 L3214.3 289 L3206.4 296.2 L3198.4 302.7 L3190.5 308.9 L3182.6 314.9 L3174.7 320.6 L3166.7 326.1 L3158.8 331.3 L3150.9 336.4 L3143 341.2 L3135 345.9 L3127.1 350.4 L3119.2 354.7 L3111.3 358.8 L3103.4 362.8 L3095.4 366.6 L3087.5 370.3 L3079.6 373.9 L3071.7 377.4 L3063.7 380.7 L3055.8 384 L3047.9 387.1 L3040 390.2 L3032 393.2 L3024.1 396.2 L3016.2 399.1 L3008.3 401.9 L3000.3 404.7 L2992.4 407.3 L2984.5 410 L2976.6 412.5 L2968.7 415 L2960.7 417.5 L2952.8 419.8 L2944.9 422.2 L2937 424.4 L2929 426.6 L2921.1 428.8 L2913.2 430.9 L2905.3 432.9 L2897.3 434.9 L2889.4 436.9 L2881.5 438.8 L2873.6 440.7 L2865.6 442.5 L2857.7 444.2 L2849.8 445.9 L2841.9 447.6 L2833.9 449.2 L2826 450.8 L2818.1 452.4 L2810.2 453.9 L2802.3 455.4 L2794.3 456.8 L2786.4 458.2 L2778.5 459.6 L2770.6 460.9 L2762.6 462.2 L2754.7 463.5 L2746.8 464.7 L2738.9 465.9 L2730.9 467.1 L2723 468.3 L2715.1 469.4 L2707.2 470.5 L2699.2 471.6 L2691.3 472.7 L2683.4 473.7 L2675.5 474.7 L2667.6 475.7 L2659.6 476.7 L2651.7 477.7 L2643.8 478.6 L2635.9 479.6 L2627.9 480.5 L2620 481.4 L2612.1 482.3 L2604.2 483.2 L2596.2 484.1 L2588.3 485 L2580.4 485.8 L2572.5 486.7 L2564.5 487.6 L2556.6 488.4 L2548.7 489.3" fill="none" stroke="#E06E3A" stroke-width="2.5" stroke-linejoin="round" stroke-linecap="round"/>
<path d="M2534.3 541.1 L2542.2 529.9 L2550.2 519.3 L2558.1 509.1 L2566 499.5 L2574 490.4 L2581.9 482 L2589.8 474.1 L2597.8 466.7 L2605.7 459.8 L2613.6 453.3 L2621.6 447.1 L2629.5 441.3 L2637.4 435.6 L2645.4 430.2 L2653.3 424.9 L2661.2 419.7 L2669.2 414.7 L2677.1 409.8 L2685 405 L2693 400.3 L2700.9 395.7 L2708.8 391.3 L2716.8 386.9 L2724.7 382.5 L2732.6 378.3 L2740.6 374.1 L2748.5 369.9 L2756.4 365.8 L2764.4 361.7 L2772.3 357.6 L2780.2 353.6 L2788.2 349.6 L2796.1 345.6 L2804 341.6 L2812 337.6 L2819.9 333.7 L2827.8 329.8 L2835.8 325.9 L2843.7 322 L2851.6 318.1 L2859.6 314.3 L2867.5 310.5 L2875.4 306.8 L2883.4 303 L2891.3 299.3 L2899.3 295.6 L2907.2 292 L2915.1 288.4 L2923.1 284.8 L2931 281.2 L2938.9 277.6 L2946.9 274.1 L2954.8 270.7 L2962.7 267.2 L2970.7 263.8 L2978.6 260.4 L2986.5 257.1 L2994.5 253.7 L3002.4 250.4 L3010.3 247.2 L3018.3 244 L3026.2 240.8 L3034.1 237.7 L3042.1 234.5 L3050 231.5 L3057.9 228.4 L3065.9 225.4 L3073.8 222.5 L3081.7 219.5 L3089.7 216.7 L3097.6 213.8 L3105.5 211 L3113.5 208.2 L3121.4 205.5 L3129.3 202.8 L3137.3 200.2 L3145.2 197.6 L3153.1 195 L3161.1 192.5 L3169 190 L3176.9 187.6 L3184.9 185.2 L3192.8 182.9 L3200.7 180.6 L3208.7 178.3 L3216.6 176.1 L3224.5 174 L3232.5 171.9 L3240.4 169.8 L3253.9 177 L3246 196.9 L3238 213.9 L3230.1 228.2 L3222.2 240.4 L3214.3 251 L3206.3 260.5 L3198.4 269.3 L3190.5 277.6 L3182.6 285.4 L3174.6 292.8 L3166.7 299.8 L3158.8 306.4 L3150.8 312.7 L3142.9 318.6 L3135 324.3 L3127.1 329.6 L3119.1 334.7 L3111.2 339.6 L3103.3 344.3 L3095.4 348.8 L3087.4 353.2 L3079.5 357.4 L3071.6 361.6 L3063.7 365.6 L3055.7 369.7 L3047.8 373.7 L3039.9 377.7 L3031.9 381.8 L3024 385.9 L3016.1 390.1 L3008.2 394.4 L3000.2 398.7 L2992.3 403 L2984.4 407.2 L2976.5 411.3 L2968.5 415.3 L2960.6 419.1 L2952.7 422.7 L2944.7 426.1 L2936.8 429.2 L2928.9 432.2 L2921 435.1 L2913 438.2 L2905.1 441.6 L2897.2 445.4 L2889.3 449.6 L2881.3 454.1 L2873.4 458.7 L2865.5 463.1 L2857.6 467.2 L2849.6 471.1 L2841.7 474.8 L2833.8 478.2 L2825.8 481.5 L2817.9 484.5 L2810 487.4 L2802.1 490.1 L2794.1 492.6 L2786.2 494.9 L2778.3 497.1 L2770.4 499.2 L2762.4 501.2 L2754.5 503.1 L2746.6 505 L2738.6 506.7 L2730.7 508.5 L2722.8 510.2 L2714.9 511.9 L2706.9 513.6 L2699 515.4 L2691.1 517.1 L2683.2 518.9 L2675.2 520.6 L2667.3 522.4 L2659.4 524.1 L2651.5 525.9 L2643.5 527.6 L2635.6 529.3 L2627.7 531.1 L2619.7 532.8 L2611.8 534.4 L2603.9 536.1 L2596 537.7 L2588 539.3 L2580.1 540.9 L2572.2 542.4 L2564.3 543.9 L2556.3 545.4 L2548.4 546.8" fill="none" stroke="#EE9A74" stroke-width="2.5" stroke-linejoin="round" stroke-linecap="round"/>
<path d="M2534.3 590.8 L2542.2 578.1 L2550.2 566.6 L2558.1 556.1 L2566 546.3 L2574 537.1 L2581.9 528.2 L2589.8 519.5 L2597.8 510.7 L2605.7 501.9 L2613.6 493.1 L2621.6 484.5 L2629.5 476.1 L2637.4 468.2 L2645.4 460.7 L2653.3 453.8 L2661.2 447.3 L2669.2 441.2 L2677.1 435.4 L2685 429.9 L2693 424.6 L2700.9 419.5 L2708.8 414.5 L2716.8 409.5 L2724.7 404.5 L2732.6 399.4 L2740.6 394.3 L2748.5 389 L2756.4 383.6 L2764.4 378.2 L2772.3 372.8 L2780.2 367.3 L2788.2 361.9 L2796.1 356.5 L2804 351.2 L2812 345.9 L2819.9 340.7 L2827.8 335.6 L2835.8 330.5 L2843.7 325.5 L2851.6 320.6 L2859.6 315.7 L2867.5 310.9 L2875.4 306.1 L2883.4 301.4 L2891.3 296.8 L2899.3 292.2 L2907.2 287.7 L2915.1 283.2 L2923.1 278.7 L2931 274.4 L2938.9 270 L2946.9 265.7 L2954.8 261.5 L2962.7 257.3 L2970.7 253.2 L2978.6 249.1 L2986.5 245 L2994.5 241 L3002.4 237 L3010.3 233.1 L3018.3 229.2 L3026.2 225.4 L3034.1 221.6 L3042.1 217.8 L3050 214.1 L3057.9 210.4 L3065.9 206.7 L3073.8 203 L3081.7 199.4 L3089.7 195.9 L3097.6 192.3 L3105.5 188.8 L3113.5 185.3 L3121.4 181.8 L3129.3 178.4 L3137.3 175 L3145.2 171.6 L3153.1 168.2 L3161.1 164.9 L3169 161.6 L3176.9 158.3 L3184.9 155 L3192.8 151.7 L3200.7 148.4 L3208.7 145.2 L3216.6 142 L3224.5 138.8 L3232.5 135.6 L3240.4 132.4 L3253.9 136.4 L3246 155.6 L3238 172.9 L3230.1 188.5 L3222.2 202.6 L3214.3 215.4 L3206.3 226.8 L3198.4 237.2 L3190.5 246.7 L3182.6 255.3 L3174.6 263.3 L3166.7 270.6 L3158.8 277.6 L3150.8 284.2 L3142.9 290.7 L3135 297 L3127.1 303.4 L3119.1 309.8 L3111.2 316.2 L3103.3 322.5 L3095.4 328.9 L3087.4 335.2 L3079.5 341.4 L3071.6 347.7 L3063.7 353.9 L3055.7 360 L3047.8 366.1 L3039.9 372 L3031.9 378 L3024 383.8 L3016.1 389.5 L3008.2 395.2 L3000.2 400.7 L2992.3 406.1 L2984.4 411.5 L2976.5 416.8 L2968.5 421.9 L2960.6 427 L2952.7 432 L2944.7 436.9 L2936.8 441.8 L2928.9 446.5 L2921 451.2 L2913 455.7 L2905.1 460.2 L2897.2 464.7 L2889.3 469 L2881.3 473.2 L2873.4 477.4 L2865.5 481.5 L2857.6 485.5 L2849.6 489.5 L2841.7 493.4 L2833.8 497.2 L2825.8 500.9 L2817.9 504.5 L2810 508.1 L2802.1 511.7 L2794.1 515.1 L2786.2 518.5 L2778.3 521.8 L2770.4 525.1 L2762.4 528.3 L2754.5 531.4 L2746.6 534.5 L2738.6 537.5 L2730.7 540.4 L2722.8 543.3 L2714.9 546.2 L2706.9 548.9 L2699 551.7 L2691.1 554.3 L2683.2 556.9 L2675.2 559.5 L2667.3 562 L2659.4 564.5 L2651.5 566.9 L2643.5 569.2 L2635.6 571.6 L2627.7 573.8 L2619.7 576.1 L2611.8 578.2 L2603.9 580.4 L2596 582.5 L2588 584.5 L2580.1 586.5 L2572.2 588.5 L2564.3 590.4 L2556.3 592.3 L2548.4 594.2" fill="none" stroke="#52B943" stroke-width="2.5" stroke-linejoin="round" stroke-linecap="round"/>
<path d="M2534.3 634 L2542.2 622.4 L2550.2 611.2 L2558.1 600.3 L2566 589.6 L2574 579.3 L2581.9 569.1 L2589.8 559.3 L2597.8 549.6 L2605.7 540.1 L2613.6 530.8 L2621.6 521.7 L2629.5 512.7 L2637.4 503.9 L2645.4 495.2 L2653.3 486.6 L2661.2 478.2 L2669.2 470.1 L2677.1 462.4 L2685 455 L2693 448.1 L2700.9 441.6 L2708.8 435.3 L2716.8 429.2 L2724.7 423.2 L2732.6 417.3 L2740.6 411.3 L2748.5 405.4 L2756.4 399.5 L2764.4 393.6 L2772.3 387.6 L2780.2 381.6 L2788.2 375.6 L2796.1 369.5 L2804 363.5 L2812 357.4 L2819.9 351.5 L2827.8 345.6 L2835.8 339.8 L2843.7 334.1 L2851.6 328.6 L2859.6 323.2 L2867.5 318.1 L2875.4 313.1 L2883.4 308.3 L2891.3 303.6 L2899.3 298.6 L2907.2 293.4 L2915.1 287.8 L2923.1 282 L2931 276 L2938.9 270.1 L2946.9 264.2 L2954.8 258.6 L2962.7 253 L2970.7 247.6 L2978.6 242.4 L2986.5 237.2 L2994.5 232.2 L3002.4 227.3 L3010.3 222.4 L3018.3 217.7 L3026.2 213.1 L3034.1 208.5 L3042.1 204 L3050 199.6 L3057.9 195.3 L3065.9 191 L3073.8 186.7 L3081.7 182.5 L3089.7 178.3 L3097.6 174.2 L3105.5 170.1 L3113.5 166 L3121.4 161.9 L3129.3 157.8 L3137.3 153.7 L3145.2 149.6 L3153.1 145.4 L3161.1 141.3 L3169 137.1 L3176.9 132.9 L3184.9 128.6 L3192.8 124.3 L3200.7 120.1 L3208.7 116 L3216.6 112.1 L3224.5 108.3 L3232.5 104.9 L3240.4 101.7 L3253.9 101.7 L3246 118.6 L3238 134.9 L3230.1 150.7 L3222.2 165.7 L3214.3 180 L3206.3 193.4 L3198.4 206 L3190.5 217.5 L3182.6 228.1 L3174.6 237.6 L3166.7 246.3 L3158.8 254.3 L3150.8 261.7 L3142.9 268.7 L3135 275.5 L3127.1 282.2 L3119.1 288.9 L3111.2 295.9 L3103.3 303 L3095.4 310.2 L3087.4 317.6 L3079.5 325.1 L3071.6 332.7 L3063.7 340.3 L3055.7 347.9 L3047.8 355.5 L3039.9 363 L3031.9 370.4 L3024 377.7 L3016.1 384.9 L3008.2 391.8 L3000.2 398.5 L2992.3 405 L2984.4 411.3 L2976.5 417.4 L2968.5 423.4 L2960.6 429.1 L2952.7 434.8 L2944.7 440.4 L2936.8 445.9 L2928.9 451.4 L2921 456.8 L2913 462.2 L2905.1 467.7 L2897.2 473.2 L2889.3 478.8 L2881.3 484.4 L2873.4 490.1 L2865.5 495.9 L2857.6 501.6 L2849.6 507.3 L2841.7 512.9 L2833.8 518.4 L2825.8 523.7 L2817.9 528.8 L2810 533.7 L2802.1 538.4 L2794.1 543 L2786.2 547.4 L2778.3 551.7 L2770.4 555.8 L2762.4 559.7 L2754.5 563.6 L2746.6 567.3 L2738.6 570.8 L2730.7 574.3 L2722.8 577.6 L2714.9 580.9 L2706.9 584 L2699 587.1 L2691.1 590.1 L2683.2 593 L2675.2 595.9 L2667.3 598.7 L2659.4 601.4 L2651.5 604.1 L2643.5 606.8 L2635.6 609.4 L2627.7 612 L2619.7 614.6 L2611.8 617.2 L2603.9 619.7 L2596 622.3 L2588 624.9 L2580.1 627.5 L2572.2 630.2 L2564.3 632.9 L2556.3 635.6 L2548.4 638.3" fill="none" stroke="#72CED3" stroke-width="2.5" stroke-linejoin="round" stroke-linecap="round"/>
<path d="M2534.3 679.4 L2542.2 663.3 L2550.1 648.2 L2558 634 L2566 620.6 L2573.9 608.2 L2581.8 596.5 L2589.7 585.5 L2597.6 575.2 L2605.5 565.5 L2613.5 556.3 L2621.4 547.7 L2629.3 539.6 L2637.2 531.8 L2645.1 524.4 L2653 517.3 L2661 510.4 L2668.9 503.4 L2676.8 496.4 L2684.7 489.3 L2692.6 481.8 L2700.5 474 L2708.4 466.2 L2716.4 458.4 L2724.3 450.6 L2732.2 443.1 L2740.1 435.6 L2748 428.3 L2755.9 421 L2763.9 413.9 L2771.8 406.8 L2779.7 399.7 L2787.6 392.8 L2795.5 385.9 L2803.4 379.1 L2811.4 372.4 L2819.3 365.9 L2827.2 359.5 L2835.1 353.4 L2843 347.5 L2850.9 341.8 L2858.8 336.2 L2866.8 330.9 L2874.7 325.6 L2882.6 320.3 L2890.5 314.9 L2898.4 309.2 L2906.3 303.2 L2914.3 296.8 L2922.2 289.9 L2930.1 283 L2938 276.1 L2945.9 269.4 L2953.8 263.1 L2961.7 257.1 L2969.7 251.4 L2977.6 245.9 L2985.5 240.6 L2993.4 235.3 L3001.3 230.2 L3009.2 225.1 L3017.2 220 L3025.1 214.9 L3033 209.6 L3040.9 204.4 L3048.8 199.1 L3056.7 193.8 L3064.7 188.5 L3072.6 183.2 L3080.5 178 L3088.4 172.8 L3096.3 167.6 L3104.2 162.5 L3112.1 157.5 L3120.1 152.6 L3128 147.8 L3135.9 143 L3143.8 138.2 L3151.7 133.5 L3159.6 128.7 L3167.6 123.8 L3175.5 118.9 L3183.4 113.8 L3191.3 108.7 L3199.2 103.5 L3207.1 98.3 L3215.1 93.1 L3223 87.8 L3230.9 82.6 L3238.8 77.5 L3253.9 74.6 L3246 92.1 L3238 109.5 L3230.1 126.5 L3222.2 143 L3214.3 159 L3206.3 174.2 L3198.4 188.6 L3190.5 201.9 L3182.6 214 L3174.6 224.8 L3166.7 234.1 L3158.8 242.1 L3150.8 249.3 L3142.9 256.3 L3135 263.5 L3127.1 270.9 L3119.1 278.6 L3111.2 286.5 L3103.3 294.6 L3095.4 302.7 L3087.4 310.9 L3079.5 319.2 L3071.6 327.6 L3063.7 336 L3055.7 344.3 L3047.8 352.7 L3039.9 361 L3031.9 369.3 L3024 377.4 L3016.1 385.5 L3008.2 393.4 L3000.2 401.1 L2992.3 408.7 L2984.4 416.1 L2976.5 423.3 L2968.5 430.3 L2960.6 437.1 L2952.7 443.7 L2944.7 450.2 L2936.8 456.5 L2928.9 462.6 L2921 468.5 L2913 474.3 L2905.1 480 L2897.2 485.7 L2889.3 491.5 L2881.3 497.4 L2873.4 503.6 L2865.5 510 L2857.6 516.5 L2849.6 523 L2841.7 529.5 L2833.8 535.9 L2825.8 542.2 L2817.9 548.3 L2810 554.2 L2802.1 560 L2794.1 565.5 L2786.2 570.9 L2778.3 576.1 L2770.4 581.2 L2762.4 586.1 L2754.5 590.9 L2746.6 595.6 L2738.6 600.1 L2730.7 604.5 L2722.8 608.7 L2714.9 612.9 L2706.9 616.9 L2699 620.9 L2691.1 624.7 L2683.2 628.5 L2675.2 632.2 L2667.3 635.7 L2659.4 639.3 L2651.5 642.7 L2643.5 646.1 L2635.6 649.5 L2627.7 652.8 L2619.7 656 L2611.8 659.3 L2603.9 662.4 L2596 665.6 L2588 668.8 L2580.1 671.9 L2572.2 675 L2564.3 678.1 L2556.3 681.3 L2548.4 684.4" fill="none" stroke="#DADD76" stroke-width="2.5" stroke-linejoin="round" stroke-linecap="round"/>
<line x1="1992.5" y1="227.2" x2="1992.5" y2="343" stroke="#7E7E3C" stroke-width="2.4"/>
<line x1="3109.3" y1="117.3" x2="3109.3" y2="301" stroke="#8A8A40" stroke-width="2.4"/>
<text x="213.5" y="1733" font-size="56" text-anchor="middle" fill="#231F20" >0</text>
<text x="369.9" y="1733" font-size="56" text-anchor="middle" fill="#231F20" >10</text>
<text x="526.3" y="1733" font-size="56" text-anchor="middle" fill="#231F20" >20</text>
<text x="682.7" y="1733" font-size="56" text-anchor="middle" fill="#231F20" >30</text>
<text x="839.1" y="1733" font-size="56" text-anchor="middle" fill="#231F20" >40</text>
<text x="995.5" y="1733" font-size="56" text-anchor="middle" fill="#231F20" >50</text>
<text x="186.5" y="1676.4" font-size="56" text-anchor="end" fill="#231F20" >0</text>
<text x="186.5" y="1533" font-size="56" text-anchor="end" fill="#231F20" >1</text>
<text x="186.5" y="1389.6" font-size="56" text-anchor="end" fill="#231F20" >2</text>
<text x="186.5" y="1246.2" font-size="56" text-anchor="end" fill="#231F20" >3</text>
<text x="186.5" y="1102.8" font-size="56" text-anchor="end" fill="#231F20" >4</text>
<text x="186.5" y="959.4" font-size="56" text-anchor="end" fill="#231F20" >5</text>
<text x="643.1" y="1814.7" font-size="56" text-anchor="middle" fill="#231F20">扫描速度/(mV·s<tspan font-size="32" dy="-18.5">−1</tspan><tspan dy="18.5">)</tspan></text>
<text x="121.2" y="1367.2" font-size="56" text-anchor="middle" fill="#231F20" transform="rotate(-90 121.2 1367.2)">电流密度/(mA·cm<tspan font-size="32" dy="-20">−2</tspan><tspan font-size="56" dy="20">)</tspan></text>
<text x="227" y="1002.3" font-size="56" text-anchor="start" fill="#231F20" >(d)</text>
<circle cx="284.3" cy="1030.8" r="8.2" fill="url(#gOr)"/>
<circle cx="284.3" cy="1072.1" r="8.2" fill="url(#gRd)"/>
<text x="316" y="1044" font-size="56" text-anchor="start" fill="#231F20" >CoFe LDH</text>
<text x="315" y="1094.4" font-size="56" text-anchor="start" fill="#231F20" >V-CoFe LDH</text>
<line x1="370.7" y1="1402.9" x2="996.2" y2="1367.6" stroke="#E3405A" stroke-width="2.4"/>
<line x1="370.7" y1="1592.9" x2="996.2" y2="1559.9" stroke="#E98A50" stroke-width="2.4"/>
<circle cx="370.7" cy="1418.8" r="8.4" fill="url(#gRd)"/>
<circle cx="526.7" cy="1383.3" r="8.4" fill="url(#gRd)"/>
<circle cx="683.8" cy="1372.7" r="8.4" fill="url(#gRd)"/>
<circle cx="840.3" cy="1373.2" r="8.4" fill="url(#gRd)"/>
<circle cx="996.2" cy="1380.5" r="8.4" fill="url(#gRd)"/>
<circle cx="370.7" cy="1594.9" r="8.4" fill="url(#gOr)"/>
<circle cx="526.7" cy="1582.8" r="8.4" fill="url(#gOr)"/>
<circle cx="683.8" cy="1573.9" r="8.4" fill="url(#gOr)"/>
<circle cx="840.3" cy="1566.1" r="8.4" fill="url(#gOr)"/>
<circle cx="996.2" cy="1562.7" r="8.4" fill="url(#gOr)"/>
<text x="770" y="1336.9" font-size="56" fill="#E0344E">6.1 mF·cm<tspan font-size="32" dy="-20">−2</tspan></text>
<text x="774" y="1527.8" font-size="56" fill="#E5702F">5.8 mF·cm<tspan font-size="32" dy="-20">−2</tspan></text>
<text x="1419.2" y="1733" font-size="56" text-anchor="middle" fill="#231F20" >0.7</text>
<text x="1562.5" y="1733" font-size="56" text-anchor="middle" fill="#231F20" >0.8</text>
<text x="1705.8" y="1733" font-size="56" text-anchor="middle" fill="#231F20" >0.9</text>
<text x="1849.2" y="1733" font-size="56" text-anchor="middle" fill="#231F20" >1.0</text>
<text x="1992.5" y="1733" font-size="56" text-anchor="middle" fill="#231F20" >1.1</text>
<text x="2135.8" y="1733" font-size="56" text-anchor="middle" fill="#231F20" >1.2</text>
<text x="1323.5" y="1678.6" font-size="56" text-anchor="end" fill="#231F20" >0</text>
<text x="1323.5" y="1535.2" font-size="56" text-anchor="end" fill="#231F20" >0.05</text>
<text x="1323.5" y="1391.8" font-size="56" text-anchor="end" fill="#231F20" >0.10</text>
<text x="1323.5" y="1248.4" font-size="56" text-anchor="end" fill="#231F20" >0.15</text>
<text x="1323.5" y="1105" font-size="56" text-anchor="end" fill="#231F20" >0.20</text>
<text x="1323.5" y="961.6" font-size="56" text-anchor="end" fill="#231F20" >0.25</text>
<text x="1696" y="1814.7" font-size="56" fill="#231F20"><tspan font-style="italic">Z</tspan>′/Ω</text>
<text x="1185.9" y="1335.9" font-size="56" text-anchor="middle" fill="#231F20" transform="rotate(-90 1185.9 1335.9)">−<tspan font-style="italic">Z</tspan>″/Ω</text>
<text x="1359.5" y="1001.3" font-size="56" text-anchor="start" fill="#231F20" >(e)</text>
<circle cx="1849.5" cy="1128.1" r="11.5" fill="url(#gDk)"/>
<circle cx="1849.5" cy="1181.8" r="11.5" fill="url(#gRe)"/>
<text x="1875" y="1145.8" font-size="56" text-anchor="start" fill="#231F20" >CoFe LDH</text>
<text x="1874" y="1199.9" font-size="56" text-anchor="start" fill="#231F20" >V-CoFe LDH</text>
<circle cx="1646.1" cy="1660.1" r="7.3" fill="url(#gDk)"/>
<circle cx="1646.9" cy="1655.5" r="7.3" fill="url(#gDk)"/>
<circle cx="1648.4" cy="1650.8" r="7.3" fill="url(#gDk)"/>
<circle cx="1650" cy="1646.1" r="7.3" fill="url(#gDk)"/>
<circle cx="1652.3" cy="1641.5" r="7.3" fill="url(#gDk)"/>
<circle cx="1654.7" cy="1636.8" r="7.3" fill="url(#gDk)"/>
<circle cx="1657.8" cy="1632.2" r="7.3" fill="url(#gDk)"/>
<circle cx="1660.9" cy="1629.1" r="7.3" fill="url(#gDk)"/>
<circle cx="1664" cy="1626" r="7.3" fill="url(#gDk)"/>
<circle cx="1685.7" cy="1651.6" r="7.3" fill="url(#gDk)"/>
<circle cx="1688.4" cy="1646.2" r="7.3" fill="url(#gDk)"/>
<circle cx="1691.1" cy="1640.7" r="7.3" fill="url(#gDk)"/>
<circle cx="1693.4" cy="1635.2" r="7.3" fill="url(#gDk)"/>
<circle cx="1695.8" cy="1629.8" r="7.3" fill="url(#gDk)"/>
<circle cx="1698.9" cy="1622.9" r="7.3" fill="url(#gDk)"/>
<circle cx="1702.8" cy="1615.1" r="7.3" fill="url(#gDk)"/>
<circle cx="1705.1" cy="1607.3" r="7.3" fill="url(#gDk)"/>
<circle cx="1708.2" cy="1599.6" r="7.3" fill="url(#gDk)"/>
<circle cx="1710.2" cy="1594.9" r="7.3" fill="url(#gDk)"/>
<circle cx="1712.1" cy="1590.2" r="7.3" fill="url(#gDk)"/>
<circle cx="1715.2" cy="1586" r="7.3" fill="url(#gDk)"/>
<circle cx="1718.3" cy="1581.7" r="7.3" fill="url(#gDk)"/>
<circle cx="1722.2" cy="1578.2" r="7.3" fill="url(#gDk)"/>
<circle cx="1726.1" cy="1574.7" r="7.3" fill="url(#gDk)"/>
<circle cx="1733.1" cy="1568.5" r="7.3" fill="url(#gDk)"/>
<circle cx="1736.9" cy="1565" r="7.3" fill="url(#gDk)"/>
<circle cx="1740.8" cy="1561.5" r="7.3" fill="url(#gDk)"/>
<circle cx="1745.7" cy="1558.7" r="7.3" fill="url(#gDk)"/>
<circle cx="1750.7" cy="1555.8" r="7.3" fill="url(#gDk)"/>
<circle cx="1755.6" cy="1553" r="7.3" fill="url(#gDk)"/>
<circle cx="1759.8" cy="1549.9" r="7.3" fill="url(#gDk)"/>
<circle cx="1764.1" cy="1546.8" r="7.3" fill="url(#gDk)"/>
<circle cx="1769.2" cy="1545.2" r="7.3" fill="url(#gDk)"/>
<circle cx="1774.2" cy="1543.7" r="7.3" fill="url(#gDk)"/>
<circle cx="1779.5" cy="1540.5" r="7.3" fill="url(#gDk)"/>
<circle cx="1784.7" cy="1537.2" r="7.3" fill="url(#gDk)"/>
<circle cx="1798.7" cy="1533.3" r="7.3" fill="url(#gDk)"/>
<circle cx="1801.8" cy="1531.8" r="7.3" fill="url(#gDk)"/>
<circle cx="1812.8" cy="1531.8" r="7.3" fill="url(#gDk)"/>
<circle cx="1825.2" cy="1527.1" r="7.3" fill="url(#gDk)"/>
<circle cx="1837.7" cy="1526.3" r="7.3" fill="url(#gDk)"/>
<circle cx="1848.6" cy="1519.3" r="7.3" fill="url(#gDk)"/>
<circle cx="1864.2" cy="1518.5" r="7.3" fill="url(#gDk)"/>
<circle cx="1864.2" cy="1523.2" r="7.3" fill="url(#gDk)"/>
<circle cx="1878.3" cy="1525.5" r="7.3" fill="url(#gDk)"/>
<circle cx="1892.3" cy="1506.8" r="7.3" fill="url(#gDk)"/>
<circle cx="1892.3" cy="1513" r="7.3" fill="url(#gDk)"/>
<circle cx="1907.1" cy="1504.5" r="7.3" fill="url(#gDk)"/>
<circle cx="1921.2" cy="1495.1" r="7.3" fill="url(#gDk)"/>
<circle cx="1921.2" cy="1506" r="7.3" fill="url(#gDk)"/>
<circle cx="1950" cy="1519.3" r="7.3" fill="url(#gDk)"/>
<circle cx="1964.9" cy="1512.3" r="7.3" fill="url(#gDk)"/>
<circle cx="1964.9" cy="1549.7" r="7.3" fill="url(#gDk)"/>
<circle cx="2007.8" cy="1487.3" r="7.3" fill="url(#gDk)"/>
<circle cx="2022.6" cy="1523.2" r="7.3" fill="url(#gDk)"/>
<circle cx="2065.5" cy="1519.3" r="7.3" fill="url(#gDk)"/>
<circle cx="2022.6" cy="1564.5" r="7.3" fill="url(#gDk)"/>
<circle cx="2051.5" cy="1556.7" r="7.3" fill="url(#gDk)"/>
<circle cx="2022.6" cy="1588.7" r="7.3" fill="url(#gDk)"/>
<circle cx="2094.4" cy="1597.3" r="7.3" fill="url(#gDk)"/>
<circle cx="2007.8" cy="1626.9" r="7.3" fill="url(#gDk)"/>
<circle cx="1993" cy="1637.1" r="7.3" fill="url(#gDk)"/>
<circle cx="2007.8" cy="1658.1" r="7.3" fill="url(#gDk)"/>
<circle cx="1416.3" cy="1658.6" r="7.3" fill="url(#gRe)"/>
<circle cx="1417.1" cy="1652.4" r="7.3" fill="url(#gRe)"/>
<circle cx="1417.9" cy="1646.1" r="7.3" fill="url(#gRe)"/>
<circle cx="1418.6" cy="1640.7" r="7.3" fill="url(#gRe)"/>
<circle cx="1419.9" cy="1635.3" r="7.3" fill="url(#gRe)"/>
<circle cx="1421.7" cy="1629.8" r="7.3" fill="url(#gRe)"/>
<circle cx="1424.1" cy="1624.4" r="7.3" fill="url(#gRe)"/>
<circle cx="1426.4" cy="1619.8" r="7.3" fill="url(#gRe)"/>
<circle cx="1429.5" cy="1615.1" r="7.3" fill="url(#gRe)"/>
<circle cx="1432.6" cy="1610.4" r="7.3" fill="url(#gRe)"/>
<circle cx="1435.7" cy="1606.6" r="7.3" fill="url(#gRe)"/>
<circle cx="1438.8" cy="1602.7" r="7.3" fill="url(#gRe)"/>
<circle cx="1442.7" cy="1598" r="7.3" fill="url(#gRe)"/>
<circle cx="1446.6" cy="1593.4" r="7.3" fill="url(#gRe)"/>
<circle cx="1450.5" cy="1589.5" r="7.3" fill="url(#gRe)"/>
<circle cx="1454.3" cy="1585.6" r="7.3" fill="url(#gRe)"/>
<circle cx="1458.2" cy="1583.7" r="7.3" fill="url(#gRe)"/>
<circle cx="1462.1" cy="1584.8" r="7.3" fill="url(#gRe)"/>
<circle cx="1483.9" cy="1602.7" r="7.3" fill="url(#gRe)"/>
<circle cx="1486.2" cy="1596.5" r="7.3" fill="url(#gRe)"/>
<circle cx="1488.5" cy="1590.2" r="7.3" fill="url(#gRe)"/>
<circle cx="1492.4" cy="1584.8" r="7.3" fill="url(#gRe)"/>
<circle cx="1496.3" cy="1579.4" r="7.3" fill="url(#gRe)"/>
<circle cx="1500.9" cy="1570.1" r="7.3" fill="url(#gRe)"/>
<circle cx="1504.8" cy="1565.4" r="7.3" fill="url(#gRe)"/>
<circle cx="1508.7" cy="1560.7" r="7.3" fill="url(#gRe)"/>
<circle cx="1516.5" cy="1552.2" r="7.3" fill="url(#gRe)"/>
<circle cx="1520.3" cy="1546.8" r="7.3" fill="url(#gRe)"/>
<circle cx="1524.2" cy="1541.3" r="7.3" fill="url(#gRe)"/>
<circle cx="1528.8" cy="1536.7" r="7.3" fill="url(#gRe)"/>
<circle cx="1533.5" cy="1532" r="7.3" fill="url(#gRe)"/>
<circle cx="1539" cy="1527.8" r="7.3" fill="url(#gRe)"/>
<circle cx="1544.4" cy="1523.5" r="7.3" fill="url(#gRe)"/>
<circle cx="1549.1" cy="1519.2" r="7.3" fill="url(#gRe)"/>
<circle cx="1553.7" cy="1514.9" r="7.3" fill="url(#gRe)"/>
<circle cx="1559.6" cy="1511.5" r="7.3" fill="url(#gRe)"/>
<circle cx="1565.4" cy="1508" r="7.3" fill="url(#gRe)"/>
<circle cx="1572" cy="1507.6" r="7.3" fill="url(#gRe)"/>
<circle cx="1578.6" cy="1507.2" r="7.3" fill="url(#gRe)"/>
<circle cx="1585.2" cy="1505.2" r="7.3" fill="url(#gRe)"/>
<circle cx="1591.8" cy="1503.3" r="7.3" fill="url(#gRe)"/>
<circle cx="1598.4" cy="1500.6" r="7.3" fill="url(#gRe)"/>
<circle cx="1605" cy="1497.9" r="7.3" fill="url(#gRe)"/>
<circle cx="1611.6" cy="1496" r="7.3" fill="url(#gRe)"/>
<circle cx="1618.2" cy="1494" r="7.3" fill="url(#gRe)"/>
<circle cx="1624.4" cy="1491.7" r="7.3" fill="url(#gRe)"/>
<circle cx="1630.6" cy="1489.3" r="7.3" fill="url(#gRe)"/>
<circle cx="1642.2" cy="1490.9" r="7.3" fill="url(#gRe)"/>
<circle cx="1648.5" cy="1490.9" r="7.3" fill="url(#gRe)"/>
<circle cx="1654.7" cy="1490.9" r="7.3" fill="url(#gRe)"/>
<circle cx="1660.9" cy="1492.5" r="7.3" fill="url(#gRe)"/>
<circle cx="1667.1" cy="1494" r="7.3" fill="url(#gRe)"/>
<circle cx="1687.3" cy="1500.2" r="7.3" fill="url(#gRe)"/>
<circle cx="1688.8" cy="1488.5" r="7.3" fill="url(#gRe)"/>
<circle cx="1713.7" cy="1511.8" r="7.3" fill="url(#gRe)"/>
<circle cx="1738.5" cy="1513.4" r="7.3" fill="url(#gRe)"/>
<circle cx="1737" cy="1536.7" r="7.3" fill="url(#gRe)"/>
<circle cx="1738.5" cy="1550.7" r="7.3" fill="url(#gRe)"/>
<circle cx="1740.8" cy="1560" r="7.3" fill="url(#gRe)"/>
<circle cx="1744" cy="1581.7" r="7.3" fill="url(#gRe)"/>
<circle cx="1761" cy="1569.3" r="7.3" fill="url(#gRe)"/>
<circle cx="1781.6" cy="1569.3" r="7.3" fill="url(#gRe)"/>
<circle cx="1770.3" cy="1594.9" r="7.3" fill="url(#gRe)"/>
<circle cx="1779.5" cy="1600.3" r="7.3" fill="url(#gRe)"/>
<circle cx="1790.7" cy="1613.8" r="7.3" fill="url(#gRe)"/>
<circle cx="1799.7" cy="1582.9" r="7.3" fill="url(#gRe)"/>
<circle cx="1757.1" cy="1616.6" r="7.3" fill="url(#gRe)"/>
<circle cx="1756.3" cy="1626.7" r="7.3" fill="url(#gRe)"/>
<circle cx="1779" cy="1640" r="7.3" fill="url(#gRe)"/>
<circle cx="1769.6" cy="1648.5" r="7.3" fill="url(#gRe)"/>
<circle cx="1736.2" cy="1664" r="7.3" fill="url(#gRe)"/>
<circle cx="1786" cy="1662.7" r="7.3" fill="url(#gRe)"/>
<circle cx="1797.3" cy="1662.7" r="7.3" fill="url(#gRe)"/>
<text x="2513.4" y="1733" font-size="56" text-anchor="middle" fill="#231F20" >0</text>
<text x="2766.7" y="1733" font-size="56" text-anchor="middle" fill="#231F20" >10000</text>
<text x="3020.1" y="1733" font-size="56" text-anchor="middle" fill="#231F20" >20000</text>
<text x="3273.4" y="1733" font-size="56" text-anchor="middle" fill="#231F20" >30000</text>
<text x="2439" y="1677.5" font-size="56" text-anchor="end" fill="#231F20" >0</text>
<text x="2439" y="1557.8" font-size="56" text-anchor="end" fill="#231F20" >0.1</text>
<text x="2439" y="1438.2" font-size="56" text-anchor="end" fill="#231F20" >0.2</text>
<text x="2439" y="1318.5" font-size="56" text-anchor="end" fill="#231F20" >0.3</text>
<text x="2439" y="1198.8" font-size="56" text-anchor="end" fill="#231F20" >0.4</text>
<text x="2439" y="1079.2" font-size="56" text-anchor="end" fill="#231F20" >0.5</text>
<text x="2439" y="959.5" font-size="56" text-anchor="end" fill="#231F20" >0.6</text>
<text x="2891.3" y="1815.6" font-size="56" text-anchor="middle" fill="#231F20" >时间/s</text>
<text x="2327.7" y="1352" font-size="56" text-anchor="middle" fill="#231F20" transform="rotate(-90 2327.7 1352)">电位/V</text>
<text x="2474.5" y="1001.5" font-size="56" text-anchor="start" fill="#231F20" >(f)</text>
<path d="M2515 1463 L2515 1102 L2522.5 1102 L2522.5 1068.5 L2532.1 1068.5 L2532.1 1047.5 L2539.8 1047.5 L2539.8 1070 L2548.5 1070 L2548.5 1106.4 L2559.6 1106.4 L2559.6 1048.3" fill="none" stroke="#F2B196" stroke-width="3.0" stroke-linejoin="miter" />
<path d="M2559.6 1048.3C2566.3 1048.8 2576.6 1050 2600 1051C2623.4 1052 2666.7 1053.6 2700 1054.5C2733.3 1055.4 2766.7 1056 2800 1056.5C2833.3 1057 2866.7 1057.2 2900 1057.5C2933.3 1057.8 2966.7 1058.1 3000 1058.3C3033.3 1058.5 3059.3 1058.5 3100 1058.5C3140.7 1058.5 3220.2 1058.3 3244.3 1058.3" fill="none" stroke="#F2B196" stroke-width="3.8" stroke-linejoin="round" stroke-linecap="round" />
<path d="M2514.3 1463 L2514.3 1084.7 L2521.9 1086.5 L2521.9 1047 L2532.1 1047 L2532.1 1021.5 L2539.8 1021.5 L2539.8 1048.3 L2549.4 1048.3 L2549.4 1091 L2558.9 1091 L2558.9 1023.4" fill="none" stroke="#A5DB78" stroke-width="3.0" stroke-linejoin="miter" />
<path d="M2558.9 1023.4C2565.8 1023.8 2576.5 1024.7 2600 1025.5C2623.5 1026.3 2666.7 1027.3 2700 1028C2733.3 1028.7 2766.7 1029.1 2800 1029.5C2833.3 1029.9 2866.7 1030.2 2900 1030.5C2933.3 1030.8 2966.7 1031 3000 1031.2C3033.3 1031.4 3059.3 1031.6 3100 1031.5C3140.7 1031.4 3220.2 1030.7 3244.3 1030.5" fill="none" stroke="#A5DB78" stroke-width="3.8" stroke-linejoin="round" stroke-linecap="round" />
<line x1="2584.5" y1="985.1" x2="2567.7" y2="1005.9" stroke="#55575c" stroke-width="1.6"/>
<path d="M2557.7 1018.3 L2564.4 1003.2 L2571.1 1008.5 Z" fill="#1a1a1a"/>
<line x1="2585.7" y1="1096.8" x2="2567.3" y2="1062.9" stroke="#55575c" stroke-width="1.6"/>
<path d="M2559.6 1048.9 L2571 1060.9 L2563.5 1065 Z" fill="#1a1a1a"/>
<line x1="3195.9" y1="989" x2="3232" y2="1019.1" stroke="#55575c" stroke-width="1.6"/>
<path d="M3244.3 1029.3 L3229.3 1022.3 L3234.7 1015.8 Z" fill="#1a1a1a"/>
<line x1="3212.3" y1="1100" x2="3235.1" y2="1070.9" stroke="#55575c" stroke-width="1.6"/>
<path d="M3245 1058.3 L3238.5 1073.5 L3231.8 1068.3 Z" fill="#1a1a1a"/>
<text x="2595" y="996.6" font-size="56" text-anchor="start" fill="#231F20" >0.538 4</text>
<text x="2568" y="1154.3" font-size="56" text-anchor="start" fill="#231F20" >0.518 5</text>
<text x="3014.5" y="1002.5" font-size="56" text-anchor="start" fill="#231F20" >0.532 1</text>
<text x="3096.5" y="1149.2" font-size="56" text-anchor="start" fill="#231F20" >0.509 2</text>
<line x1="2893" y1="1384.2" x2="2972.1" y2="1384.2" stroke="#A5DB78" stroke-width="4"/>
<line x1="2893" y1="1440.5" x2="2972.1" y2="1440.5" stroke="#F2B196" stroke-width="4"/>
<text x="2984" y="1398.9" font-size="56" text-anchor="start" fill="#231F20" >CoFe LDH</text>
<text x="2983.5" y="1455.2" font-size="56" text-anchor="start" fill="#231F20" >V-CoFe LDH</text>
<rect x="213.5" y="37.4" width="861" height="717.9" fill="none" stroke="#231F20" stroke-width="2.8"/>
<path d="M336.5 755.3v-11.5M459.5 755.3v-11.5M582.5 755.3v-11.5M705.5 755.3v-11.5M828.5 755.3v-11.5M951.5 755.3v-11.5" stroke="#231F20" stroke-width="2.8" fill="none"/>
<path d="M213.5 724h11.5M213.5 571.2h11.5M213.5 418.5h11.5M213.5 265.8h11.5M213.5 113h11.5" stroke="#231F20" stroke-width="2.8" fill="none"/>
<rect x="306.6" y="165.3" width="364.3" height="322.3" fill="none" stroke="#231F20" stroke-width="3.4"/>
<path d="M358.7 487.6v-8M410.7 487.6v-8M462.8 487.6v-8M514.8 487.6v-8M566.9 487.6v-8M618.9 487.6v-8" stroke="#231F20" stroke-width="3.0" fill="none"/>
<path d="M306.6 433.9h8M306.6 380.2h8M306.6 326.4h8M306.6 272.7h8M306.6 219h8" stroke="#231F20" stroke-width="3.0" fill="none"/>
<rect x="1347.5" y="37.4" width="860" height="717.9" fill="none" stroke="#231F20" stroke-width="2.8"/>
<path d="M1419.2 755.3v-11.5M1562.5 755.3v-11.5M1705.8 755.3v-11.5M1849.2 755.3v-11.5M1992.5 755.3v-11.5M2135.8 755.3v-11.5" stroke="#231F20" stroke-width="2.8" fill="none"/>
<path d="M1347.5 683.5h11.5M1347.5 539.9h11.5M1347.5 396.3h11.5M1347.5 252.7h11.5M1347.5 109.1h11.5" stroke="#231F20" stroke-width="2.8" fill="none"/>
<rect x="2463.5" y="34.6" width="861.1" height="716.7" fill="none" stroke="#231F20" stroke-width="2.8"/>
<path d="M2535.3 751.3v-11.5M2678.8 751.3v-11.5M2822.3 751.3v-11.5M2965.8 751.3v-11.5M3109.3 751.3v-11.5M3252.9 751.3v-11.5" stroke="#231F20" stroke-width="2.8" fill="none"/>
<path d="M2463.5 686.2h11.5M2463.5 523.3h11.5M2463.5 360.4h11.5M2463.5 197.5h11.5" stroke="#231F20" stroke-width="2.8" fill="none"/>
<rect x="213.5" y="948.4" width="861.1" height="717" fill="none" stroke="#231F20" stroke-width="2.8"/>
<path d="M369.9 1665.4v-11.5M526.3 1665.4v-11.5M682.7 1665.4v-11.5M839.1 1665.4v-11.5M995.5 1665.4v-11.5" stroke="#231F20" stroke-width="2.8" fill="none"/>
<path d="M213.5 1522h11.5M213.5 1378.6h11.5M213.5 1235.2h11.5M213.5 1091.8h11.5" stroke="#231F20" stroke-width="2.8" fill="none"/>
<rect x="1347.5" y="949.4" width="860" height="717" fill="none" stroke="#231F20" stroke-width="2.8"/>
<path d="M1419.2 1666.4v-11.5M1562.5 1666.4v-11.5M1705.8 1666.4v-11.5M1849.2 1666.4v-11.5M1992.5 1666.4v-11.5M2135.8 1666.4v-11.5" stroke="#231F20" stroke-width="2.8" fill="none"/>
<path d="M1347.5 1523h11.5M1347.5 1379.6h11.5M1347.5 1236.2h11.5M1347.5 1092.8h11.5" stroke="#231F20" stroke-width="2.8" fill="none"/>
<rect x="2462.7" y="949.4" width="859.9" height="717.1" fill="none" stroke="#231F20" stroke-width="2.8"/>
<path d="M2513.4 1666.5v-11.5M2640 1666.5v-11.5M2766.7 1666.5v-11.5M2893.4 1666.5v-11.5M3020.1 1666.5v-11.5M3146.7 1666.5v-11.5M3273.4 1666.5v-11.5" stroke="#231F20" stroke-width="2.8" fill="none"/>
<path d="M2462.7 1546.8h11.5M2462.7 1427.2h11.5M2462.7 1307.5h11.5M2462.7 1187.8h11.5M2462.7 1068.2h11.5" stroke="#231F20" stroke-width="2.8" fill="none"/>
</svg>
</body></html>
